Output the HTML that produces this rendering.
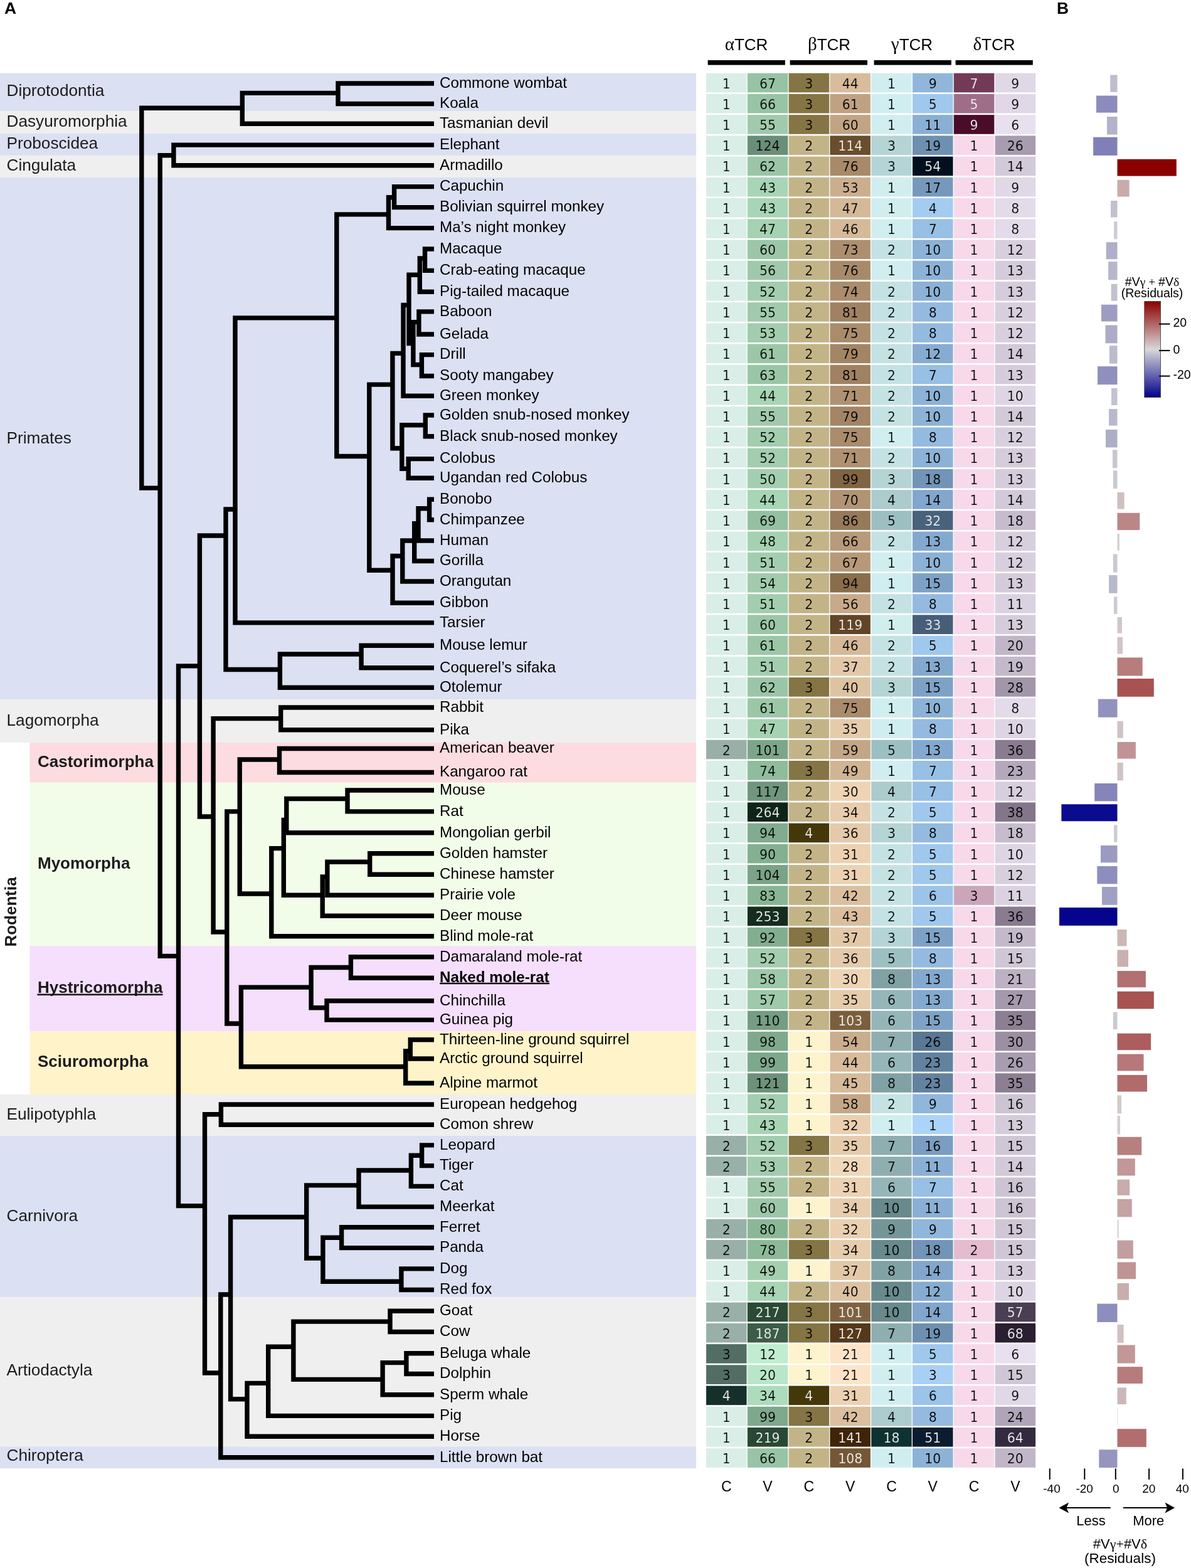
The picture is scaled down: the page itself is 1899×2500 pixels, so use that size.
<!DOCTYPE html><html><head><meta charset="utf-8"><title>TCR repertoire phylogeny</title><style>
html,body{margin:0;padding:0;background:#fff;}body{width:1899px;height:2500px;overflow:hidden;}
svg{display:block;}text{font-family:"Liberation Sans",Arial,sans-serif;text-decoration-skip-ink:none;}
.sp{font-size:24.2px;fill:#000;}.ord{font-size:26.2px;fill:#1c1c1c;}.ob{font-size:26px;font-weight:bold;fill:#1c1c1c;}
.num{font-family:"DejaVu Sans",Verdana,sans-serif;font-size:20.4px;text-anchor:middle;stroke-width:0.2px;}
.gk{font-family:"Liberation Serif","Times New Roman",serif;}
</style></head><body>
<svg width="1899" height="2500" viewBox="0 0 1899 2500">
<rect x="0.0" y="116.8" width="1110.0" height="60.2" fill="#dbe0f2"/>
<rect x="0.0" y="177.0" width="1110.0" height="35.7" fill="#efefef"/>
<rect x="0.0" y="212.7" width="1110.0" height="35.2" fill="#dbe0f2"/>
<rect x="0.0" y="247.9" width="1110.0" height="35.1" fill="#efefef"/>
<rect x="0.0" y="283.0" width="1110.0" height="832.2" fill="#dbe0f2"/>
<rect x="0.0" y="1115.2" width="1110.0" height="68.7" fill="#efefef"/>
<rect x="47.5" y="1183.9" width="1062.5" height="63.9" fill="#fddce1"/>
<rect x="47.5" y="1247.8" width="1062.5" height="260.4" fill="#f2fde9"/>
<rect x="47.5" y="1508.2" width="1062.5" height="136.1" fill="#f5dffc"/>
<rect x="47.5" y="1644.3" width="1062.5" height="100.7" fill="#fef3c9"/>
<rect x="0.0" y="1745.0" width="1110.0" height="66.0" fill="#efefef"/>
<rect x="0.0" y="1811.0" width="1110.0" height="257.0" fill="#dbe0f2"/>
<rect x="0.0" y="2068.0" width="1110.0" height="238.4" fill="#efefef"/>
<rect x="0.0" y="2306.4" width="1110.0" height="34.8" fill="#dbe0f2"/>
<path d="M539.0 133.0V165.5M539.0 133.0H688.3M539.0 165.5H688.3M386.3 148.4V197.2M386.3 148.4H539.0M386.3 197.2H688.3M276.9 231.1V263.7M276.9 231.1H688.3M276.9 263.7H688.3M628.6 297.6V330.6M628.6 297.6H688.3M628.6 330.6H688.3M619.5 314.7V363.6M619.5 314.7H628.6M619.5 363.6H688.3M677.5 397.0V431.4M677.5 397.0H688.3M677.5 431.4H688.3M669.3 412.0V465.3M669.3 412.0H677.5M669.3 465.3H688.3M667.9 496.9V533.0M667.9 496.9H688.3M667.9 533.0H688.3M672.4 565.6V599.5M672.4 565.6H688.3M672.4 599.5H688.3M658.9 513.6V581.5M658.9 513.6H667.9M658.9 581.5H672.4M652.0 438.2V547.6M652.0 438.2H669.3M652.0 547.6H658.9M643.0 486.5V631.2M643.0 486.5H652.0M643.0 631.2H688.3M678.3 662.0V695.8M678.3 662.0H688.3M678.3 695.8H688.3M651.2 731.6V762.3M651.2 731.6H688.3M651.2 762.3H688.3M640.8 677.8V747.4M640.8 677.8H678.3M640.8 747.4H651.2M625.9 563.4V714.8M625.9 563.4H643.0M625.9 714.8H640.8M684.6 796.2V828.8M684.6 796.2H688.3M684.6 828.8H688.3M667.0 810.7V862.0M667.0 810.7H684.6M667.0 862.0H688.3M660.7 834.6V894.5M660.7 834.6H667.0M660.7 894.5H688.3M641.8 862.0V927.0M641.8 862.0H660.7M641.8 927.0H688.3M626.0 886.5V961.2M626.0 886.5H641.8M626.0 961.2H688.3M588.8 613.1V909.2M588.8 613.1H625.9M588.8 909.2H626.0M536.8 341.9V727.5M536.8 341.9H619.5M536.8 727.5H588.8M375.0 506.9V992.9M375.0 506.9H536.8M375.0 992.9H688.3M576.1 1029.3V1064.8M576.1 1029.3H688.3M576.1 1064.8H688.3M446.4 1043.0V1096.3M446.4 1043.0H576.1M446.4 1096.3H688.3M360.0 812.0V1067.5M360.0 812.0H375.0M360.0 1067.5H446.4M447.7 1128.0V1163.7M447.7 1128.0H688.3M447.7 1163.7H688.3M445.5 1193.5V1231.5M445.5 1193.5H688.3M445.5 1231.5H688.3M554.0 1260.0V1293.9M554.0 1260.0H688.3M554.0 1293.9H688.3M456.8 1273.5V1327.8M456.8 1273.5H554.0M456.8 1327.8H688.3M589.7 1360.8V1394.2M589.7 1360.8H688.3M589.7 1394.2H688.3M521.9 1374.3V1427.2M521.9 1374.3H589.7M521.9 1427.2H688.3M514.2 1398.0V1460.2M514.2 1398.0H521.9M514.2 1460.2H688.3M452.3 1307.4V1427.2M452.3 1307.4H456.8M452.3 1427.2H514.2M432.8 1352.6V1492.8M432.8 1352.6H452.3M432.8 1492.8H688.3M382.2 1211.0V1425.0M382.2 1211.0H445.5M382.2 1425.0H432.8M559.4 1525.8V1559.2M559.4 1525.8H688.3M559.4 1559.2H688.3M521.0 1595.8V1626.1M521.0 1595.8H688.3M521.0 1626.1H688.3M496.1 1542.5V1606.7M496.1 1542.5H559.4M496.1 1606.7H521.0M654.3 1657.8V1688.0M654.3 1657.8H688.3M654.3 1688.0H688.3M646.7 1675.9V1727.0M646.7 1675.9H654.3M646.7 1727.0H688.3M384.4 1574.1V1700.7M384.4 1574.1H496.1M384.4 1700.7H646.7M361.8 1293.9V1632.0M361.8 1293.9H382.2M361.8 1632.0H384.4M340.1 1145.6V1486.0M340.1 1145.6H447.7M340.1 1486.0H361.8M318.4 854.0V1302.0M318.4 854.0H360.0M318.4 1302.0H340.1M352.4 1761.0V1793.2M352.4 1761.0H688.3M352.4 1793.2H688.3M672.6 1825.9V1858.6M672.6 1825.9H688.3M672.6 1858.6H688.3M655.4 1842.3V1891.4M655.4 1842.3H672.6M655.4 1891.4H688.3M572.0 1866.0V1924.1M572.0 1866.0H655.4M572.0 1924.1H688.3M544.6 1956.8V1989.6M544.6 1956.8H688.3M544.6 1989.6H688.3M639.9 2022.9V2056.5M639.9 2022.9H688.3M639.9 2056.5H688.3M514.9 1973.2V2043.2M514.9 1973.2H544.6M514.9 2043.2H639.9M488.7 1889.9V2006.0M488.7 1889.9H572.0M488.7 2006.0H514.9M622.0 2090.2V2123.5M622.0 2090.2H688.3M622.0 2123.5H688.3M647.9 2157.7V2190.5M647.9 2157.7H688.3M647.9 2190.5H688.3M610.1 2172.6V2223.8M610.1 2172.6H647.9M610.1 2223.8H688.3M467.9 2107.1V2199.4M467.9 2107.1H622.0M467.9 2199.4H610.1M427.7 2147.3V2257.4M427.7 2147.3H467.9M427.7 2257.4H688.3M394.0 2205.4V2290.2M394.0 2205.4H427.7M394.0 2290.2H688.3M367.6 1940.5V2230.7M367.6 1940.5H488.7M367.6 2230.7H394.0M351.8 2064.0V2323.8M351.8 2064.0H367.6M351.8 2323.8H688.3M326.5 1776.8V2189.0M326.5 1776.8H352.4M326.5 2189.0H351.8M284.5 1061.9V1922.6M284.5 1061.9H318.4M284.5 1922.6H326.5M255.2 247.8V1524.4M255.2 247.8H276.9M255.2 1524.4H284.5M225.8 172.3V778.1M225.8 172.3H386.3M225.8 778.1H255.2" stroke="#000" stroke-width="7.4" fill="none" stroke-linecap="square" stroke-linejoin="miter"/>
<text class="sp" x="701" y="139.8">Commone wombat</text>
<text class="sp" x="701" y="172.3">Koala</text>
<text class="sp" x="701" y="204.0">Tasmanian devil</text>
<text class="sp" x="701" y="237.9">Elephant</text>
<text class="sp" x="701" y="270.5">Armadillo</text>
<text class="sp" x="701" y="304.4">Capuchin</text>
<text class="sp" x="701" y="337.4">Bolivian squirrel monkey</text>
<text class="sp" x="701" y="370.4">Ma’s night monkey</text>
<text class="sp" x="701" y="403.8">Macaque</text>
<text class="sp" x="701" y="438.2">Crab-eating macaque</text>
<text class="sp" x="701" y="472.1">Pig-tailed macaque</text>
<text class="sp" x="701" y="503.7">Baboon</text>
<text class="sp" x="701" y="539.8">Gelada</text>
<text class="sp" x="701" y="572.4">Drill</text>
<text class="sp" x="701" y="606.3">Sooty mangabey</text>
<text class="sp" x="701" y="638.0">Green monkey</text>
<text class="sp" x="701" y="668.8">Golden snub-nosed monkey</text>
<text class="sp" x="701" y="702.6">Black snub-nosed monkey</text>
<text class="sp" x="701" y="738.4">Colobus</text>
<text class="sp" x="701" y="769.1">Ugandan red Colobus</text>
<text class="sp" x="701" y="803.0">Bonobo</text>
<text class="sp" x="701" y="835.6">Chimpanzee</text>
<text class="sp" x="701" y="868.8">Human</text>
<text class="sp" x="701" y="901.3">Gorilla</text>
<text class="sp" x="701" y="933.8">Orangutan</text>
<text class="sp" x="701" y="968.0">Gibbon</text>
<text class="sp" x="701" y="999.7">Tarsier</text>
<text class="sp" x="701" y="1036.1">Mouse lemur</text>
<text class="sp" x="701" y="1071.6">Coquerel’s sifaka</text>
<text class="sp" x="701" y="1103.1">Otolemur</text>
<text class="sp" x="701" y="1134.8">Rabbit</text>
<text class="sp" x="701" y="1170.5">Pika</text>
<text class="sp" x="701" y="1200.3">American beaver</text>
<text class="sp" x="701" y="1238.3">Kangaroo rat</text>
<text class="sp" x="701" y="1266.8">Mouse</text>
<text class="sp" x="701" y="1300.7">Rat</text>
<text class="sp" x="701" y="1334.6">Mongolian gerbil</text>
<text class="sp" x="701" y="1367.6">Golden hamster</text>
<text class="sp" x="701" y="1401.0">Chinese hamster</text>
<text class="sp" x="701" y="1434.0">Prairie vole</text>
<text class="sp" x="701" y="1467.0">Deer mouse</text>
<text class="sp" x="701" y="1499.6">Blind mole-rat</text>
<text class="sp" x="701" y="1532.6">Damaraland mole-rat</text>
<text class="sp" x="701" y="1566.0" font-weight="bold">Naked mole-rat</text>
<rect x="701.2" y="1566.8" width="174.9" height="2.4" fill="#000"/>
<text class="sp" x="701" y="1602.6">Chinchilla</text>
<text class="sp" x="701" y="1632.9">Guinea pig</text>
<text class="sp" x="701" y="1664.6">Thirteen-line ground squirrel</text>
<text class="sp" x="701" y="1694.8">Arctic ground squirrel</text>
<text class="sp" x="701" y="1733.8">Alpine marmot</text>
<text class="sp" x="701" y="1767.8">European hedgehog</text>
<text class="sp" x="701" y="1800.0">Comon shrew</text>
<text class="sp" x="701" y="1832.7">Leopard</text>
<text class="sp" x="701" y="1865.4">Tiger</text>
<text class="sp" x="701" y="1898.2">Cat</text>
<text class="sp" x="701" y="1930.9">Meerkat</text>
<text class="sp" x="701" y="1963.6">Ferret</text>
<text class="sp" x="701" y="1996.4">Panda</text>
<text class="sp" x="701" y="2029.7">Dog</text>
<text class="sp" x="701" y="2063.3">Red fox</text>
<text class="sp" x="701" y="2097.0">Goat</text>
<text class="sp" x="701" y="2130.3">Cow</text>
<text class="sp" x="701" y="2164.5">Beluga whale</text>
<text class="sp" x="701" y="2197.3">Dolphin</text>
<text class="sp" x="701" y="2230.6">Sperm whale</text>
<text class="sp" x="701" y="2264.2">Pig</text>
<text class="sp" x="701" y="2297.0">Horse</text>
<text class="sp" x="701" y="2330.6">Little brown bat</text>
<text class="ord" x="10.5" y="153.0">Diprotodontia</text>
<text class="ord" x="10.5" y="201.8">Dasyuromorphia</text>
<text class="ord" x="10.5" y="236.6">Proboscidea</text>
<text class="ord" x="10.5" y="272.3">Cingulata</text>
<text class="ord" x="10.5" y="706.5">Primates</text>
<text class="ord" x="10.5" y="1157.0">Lagomorpha</text>
<text class="ord" x="10.5" y="1785.0">Eulipotyphla</text>
<text class="ord" x="10.5" y="1946.5">Carnivora</text>
<text class="ord" x="10.5" y="2193.0">Artiodactyla</text>
<text class="ord" x="10.5" y="2329.4">Chiroptera</text>
<text class="ob" x="60" y="1222.8">Castorimorpha</text>
<text class="ob" x="60" y="1384.8">Myomorpha</text>
<text class="ob" x="60" y="1582.6">Hystricomorpha</text>
<rect x="59.4" y="1584.5" width="200.1" height="2.6" fill="#1c1c1c"/>
<text class="ob" x="60" y="1701.3">Sciuromorpha</text>
<text class="ob" transform="translate(26,1454) rotate(-90)" text-anchor="middle">Rodentia</text>
<rect x="1126.00" y="116.70" width="64.50" height="30.62" fill="#d9eee7"/>
<text class="num" x="1158.25" y="140.51" fill="#000" stroke="#d9eee7">1</text>
<rect x="1191.80" y="116.70" width="64.50" height="30.62" fill="#95c3a3"/>
<text class="num" x="1224.05" y="140.51" fill="#000" stroke="#95c3a3">67</text>
<rect x="1257.60" y="116.70" width="64.50" height="30.62" fill="#857544"/>
<text class="num" x="1289.85" y="140.51" fill="#000" stroke="#857544">3</text>
<rect x="1323.40" y="116.70" width="64.50" height="30.62" fill="#d8bc9c"/>
<text class="num" x="1355.65" y="140.51" fill="#000" stroke="#d8bc9c">44</text>
<rect x="1389.20" y="116.70" width="64.50" height="30.62" fill="#d0eef0"/>
<text class="num" x="1421.45" y="140.51" fill="#000" stroke="#d0eef0">1</text>
<rect x="1455.00" y="116.70" width="64.50" height="30.62" fill="#90b6db"/>
<text class="num" x="1487.25" y="140.51" fill="#000" stroke="#90b6db">9</text>
<rect x="1520.80" y="116.70" width="64.50" height="30.62" fill="#733a58"/>
<text class="num" x="1553.05" y="140.51" fill="#f2f2f2" stroke="#733a58">7</text>
<rect x="1586.60" y="116.70" width="64.50" height="30.62" fill="#e0d8e6"/>
<text class="num" x="1618.85" y="140.51" fill="#000" stroke="#e0d8e6">9</text>
<rect x="1126.00" y="149.92" width="64.50" height="30.62" fill="#d9eee7"/>
<text class="num" x="1158.25" y="173.73" fill="#000" stroke="#d9eee7">1</text>
<rect x="1191.80" y="149.92" width="64.50" height="30.62" fill="#96c4a4"/>
<text class="num" x="1224.05" y="173.73" fill="#000" stroke="#96c4a4">66</text>
<rect x="1257.60" y="149.92" width="64.50" height="30.62" fill="#857544"/>
<text class="num" x="1289.85" y="173.73" fill="#000" stroke="#857544">3</text>
<rect x="1323.40" y="149.92" width="64.50" height="30.62" fill="#c0a282"/>
<text class="num" x="1355.65" y="173.73" fill="#000" stroke="#c0a282">61</text>
<rect x="1389.20" y="149.92" width="64.50" height="30.62" fill="#d0eef0"/>
<text class="num" x="1421.45" y="173.73" fill="#000" stroke="#d0eef0">1</text>
<rect x="1455.00" y="149.92" width="64.50" height="30.62" fill="#a0c8ec"/>
<text class="num" x="1487.25" y="173.73" fill="#000" stroke="#a0c8ec">5</text>
<rect x="1520.80" y="149.92" width="64.50" height="30.62" fill="#9e6e88"/>
<text class="num" x="1553.05" y="173.73" fill="#f2f2f2" stroke="#9e6e88">5</text>
<rect x="1586.60" y="149.92" width="64.50" height="30.62" fill="#e0d8e6"/>
<text class="num" x="1618.85" y="173.73" fill="#000" stroke="#e0d8e6">9</text>
<rect x="1126.00" y="183.14" width="64.50" height="30.62" fill="#d9eee7"/>
<text class="num" x="1158.25" y="206.95" fill="#000" stroke="#d9eee7">1</text>
<rect x="1191.80" y="183.14" width="64.50" height="30.62" fill="#a0caab"/>
<text class="num" x="1224.05" y="206.95" fill="#000" stroke="#a0caab">55</text>
<rect x="1257.60" y="183.14" width="64.50" height="30.62" fill="#857544"/>
<text class="num" x="1289.85" y="206.95" fill="#000" stroke="#857544">3</text>
<rect x="1323.40" y="183.14" width="64.50" height="30.62" fill="#c2a484"/>
<text class="num" x="1355.65" y="206.95" fill="#000" stroke="#c2a484">60</text>
<rect x="1389.20" y="183.14" width="64.50" height="30.62" fill="#d0eef0"/>
<text class="num" x="1421.45" y="206.95" fill="#000" stroke="#d0eef0">1</text>
<rect x="1455.00" y="183.14" width="64.50" height="30.62" fill="#8aafd4"/>
<text class="num" x="1487.25" y="206.95" fill="#000" stroke="#8aafd4">11</text>
<rect x="1520.80" y="183.14" width="64.50" height="30.62" fill="#4a0c28"/>
<text class="num" x="1553.05" y="206.95" fill="#f2f2f2" stroke="#4a0c28">9</text>
<rect x="1586.60" y="183.14" width="64.50" height="30.62" fill="#e8e0ee"/>
<text class="num" x="1618.85" y="206.95" fill="#000" stroke="#e8e0ee">6</text>
<rect x="1126.00" y="216.36" width="64.50" height="30.62" fill="#d9eee7"/>
<text class="num" x="1158.25" y="240.17" fill="#000" stroke="#d9eee7">1</text>
<rect x="1191.80" y="216.36" width="64.50" height="30.62" fill="#6a8f78"/>
<text class="num" x="1224.05" y="240.17" fill="#000" stroke="#6a8f78">124</text>
<rect x="1257.60" y="216.36" width="64.50" height="30.62" fill="#c3b488"/>
<text class="num" x="1289.85" y="240.17" fill="#000" stroke="#c3b488">2</text>
<rect x="1323.40" y="216.36" width="64.50" height="30.62" fill="#6a4d2d"/>
<text class="num" x="1355.65" y="240.17" fill="#f2f2f2" stroke="#6a4d2d">114</text>
<rect x="1389.20" y="216.36" width="64.50" height="30.62" fill="#b4d4d6"/>
<text class="num" x="1421.45" y="240.17" fill="#000" stroke="#b4d4d6">3</text>
<rect x="1455.00" y="216.36" width="64.50" height="30.62" fill="#6e90b0"/>
<text class="num" x="1487.25" y="240.17" fill="#000" stroke="#6e90b0">19</text>
<rect x="1520.80" y="216.36" width="64.50" height="30.62" fill="#f7d9e9"/>
<text class="num" x="1553.05" y="240.17" fill="#000" stroke="#f7d9e9">1</text>
<rect x="1586.60" y="216.36" width="64.50" height="30.62" fill="#a89cb0"/>
<text class="num" x="1618.85" y="240.17" fill="#000" stroke="#a89cb0">26</text>
<rect x="1126.00" y="249.58" width="64.50" height="30.62" fill="#d9eee7"/>
<text class="num" x="1158.25" y="273.39" fill="#000" stroke="#d9eee7">1</text>
<rect x="1191.80" y="249.58" width="64.50" height="30.62" fill="#9ac6a7"/>
<text class="num" x="1224.05" y="273.39" fill="#000" stroke="#9ac6a7">62</text>
<rect x="1257.60" y="249.58" width="64.50" height="30.62" fill="#c3b488"/>
<text class="num" x="1289.85" y="273.39" fill="#000" stroke="#c3b488">2</text>
<rect x="1323.40" y="249.58" width="64.50" height="30.62" fill="#a88a6a"/>
<text class="num" x="1355.65" y="273.39" fill="#000" stroke="#a88a6a">76</text>
<rect x="1389.20" y="249.58" width="64.50" height="30.62" fill="#b4d4d6"/>
<text class="num" x="1421.45" y="273.39" fill="#000" stroke="#b4d4d6">3</text>
<rect x="1455.00" y="249.58" width="64.50" height="30.62" fill="#001020"/>
<text class="num" x="1487.25" y="273.39" fill="#f2f2f2" stroke="#001020">54</text>
<rect x="1520.80" y="249.58" width="64.50" height="30.62" fill="#f7d9e9"/>
<text class="num" x="1553.05" y="273.39" fill="#000" stroke="#f7d9e9">1</text>
<rect x="1586.60" y="249.58" width="64.50" height="30.62" fill="#d2c9d9"/>
<text class="num" x="1618.85" y="273.39" fill="#000" stroke="#d2c9d9">14</text>
<rect x="1126.00" y="282.80" width="64.50" height="30.62" fill="#d9eee7"/>
<text class="num" x="1158.25" y="306.61" fill="#000" stroke="#d9eee7">1</text>
<rect x="1191.80" y="282.80" width="64.50" height="30.62" fill="#a7d5b5"/>
<text class="num" x="1224.05" y="306.61" fill="#000" stroke="#a7d5b5">43</text>
<rect x="1257.60" y="282.80" width="64.50" height="30.62" fill="#c3b488"/>
<text class="num" x="1289.85" y="306.61" fill="#000" stroke="#c3b488">2</text>
<rect x="1323.40" y="282.80" width="64.50" height="30.62" fill="#ccae8e"/>
<text class="num" x="1355.65" y="306.61" fill="#000" stroke="#ccae8e">53</text>
<rect x="1389.20" y="282.80" width="64.50" height="30.62" fill="#d0eef0"/>
<text class="num" x="1421.45" y="306.61" fill="#000" stroke="#d0eef0">1</text>
<rect x="1455.00" y="282.80" width="64.50" height="30.62" fill="#7699bb"/>
<text class="num" x="1487.25" y="306.61" fill="#000" stroke="#7699bb">17</text>
<rect x="1520.80" y="282.80" width="64.50" height="30.62" fill="#f7d9e9"/>
<text class="num" x="1553.05" y="306.61" fill="#000" stroke="#f7d9e9">1</text>
<rect x="1586.60" y="282.80" width="64.50" height="30.62" fill="#e0d8e6"/>
<text class="num" x="1618.85" y="306.61" fill="#000" stroke="#e0d8e6">9</text>
<rect x="1126.00" y="316.02" width="64.50" height="30.62" fill="#d9eee7"/>
<text class="num" x="1158.25" y="339.83" fill="#000" stroke="#d9eee7">1</text>
<rect x="1191.80" y="316.02" width="64.50" height="30.62" fill="#a7d5b5"/>
<text class="num" x="1224.05" y="339.83" fill="#000" stroke="#a7d5b5">43</text>
<rect x="1257.60" y="316.02" width="64.50" height="30.62" fill="#c3b488"/>
<text class="num" x="1289.85" y="339.83" fill="#000" stroke="#c3b488">2</text>
<rect x="1323.40" y="316.02" width="64.50" height="30.62" fill="#d4b898"/>
<text class="num" x="1355.65" y="339.83" fill="#000" stroke="#d4b898">47</text>
<rect x="1389.20" y="316.02" width="64.50" height="30.62" fill="#d0eef0"/>
<text class="num" x="1421.45" y="339.83" fill="#000" stroke="#d0eef0">1</text>
<rect x="1455.00" y="316.02" width="64.50" height="30.62" fill="#a4ccf0"/>
<text class="num" x="1487.25" y="339.83" fill="#000" stroke="#a4ccf0">4</text>
<rect x="1520.80" y="316.02" width="64.50" height="30.62" fill="#f7d9e9"/>
<text class="num" x="1553.05" y="339.83" fill="#000" stroke="#f7d9e9">1</text>
<rect x="1586.60" y="316.02" width="64.50" height="30.62" fill="#e3dbe9"/>
<text class="num" x="1618.85" y="339.83" fill="#000" stroke="#e3dbe9">8</text>
<rect x="1126.00" y="349.24" width="64.50" height="30.62" fill="#d9eee7"/>
<text class="num" x="1158.25" y="373.05" fill="#000" stroke="#d9eee7">1</text>
<rect x="1191.80" y="349.24" width="64.50" height="30.62" fill="#a5d2b2"/>
<text class="num" x="1224.05" y="373.05" fill="#000" stroke="#a5d2b2">47</text>
<rect x="1257.60" y="349.24" width="64.50" height="30.62" fill="#c3b488"/>
<text class="num" x="1289.85" y="373.05" fill="#000" stroke="#c3b488">2</text>
<rect x="1323.40" y="349.24" width="64.50" height="30.62" fill="#d5b999"/>
<text class="num" x="1355.65" y="373.05" fill="#000" stroke="#d5b999">46</text>
<rect x="1389.20" y="349.24" width="64.50" height="30.62" fill="#d0eef0"/>
<text class="num" x="1421.45" y="373.05" fill="#000" stroke="#d0eef0">1</text>
<rect x="1455.00" y="349.24" width="64.50" height="30.62" fill="#98bfe4"/>
<text class="num" x="1487.25" y="373.05" fill="#000" stroke="#98bfe4">7</text>
<rect x="1520.80" y="349.24" width="64.50" height="30.62" fill="#f7d9e9"/>
<text class="num" x="1553.05" y="373.05" fill="#000" stroke="#f7d9e9">1</text>
<rect x="1586.60" y="349.24" width="64.50" height="30.62" fill="#e3dbe9"/>
<text class="num" x="1618.85" y="373.05" fill="#000" stroke="#e3dbe9">8</text>
<rect x="1126.00" y="382.46" width="64.50" height="30.62" fill="#d9eee7"/>
<text class="num" x="1158.25" y="406.27" fill="#000" stroke="#d9eee7">1</text>
<rect x="1191.80" y="382.46" width="64.50" height="30.62" fill="#9bc7a8"/>
<text class="num" x="1224.05" y="406.27" fill="#000" stroke="#9bc7a8">60</text>
<rect x="1257.60" y="382.46" width="64.50" height="30.62" fill="#c3b488"/>
<text class="num" x="1289.85" y="406.27" fill="#000" stroke="#c3b488">2</text>
<rect x="1323.40" y="382.46" width="64.50" height="30.62" fill="#ad8f6f"/>
<text class="num" x="1355.65" y="406.27" fill="#000" stroke="#ad8f6f">73</text>
<rect x="1389.20" y="382.46" width="64.50" height="30.62" fill="#c4e2e4"/>
<text class="num" x="1421.45" y="406.27" fill="#000" stroke="#c4e2e4">2</text>
<rect x="1455.00" y="382.46" width="64.50" height="30.62" fill="#8cb2d6"/>
<text class="num" x="1487.25" y="406.27" fill="#000" stroke="#8cb2d6">10</text>
<rect x="1520.80" y="382.46" width="64.50" height="30.62" fill="#f7d9e9"/>
<text class="num" x="1553.05" y="406.27" fill="#000" stroke="#f7d9e9">1</text>
<rect x="1586.60" y="382.46" width="64.50" height="30.62" fill="#d8cfde"/>
<text class="num" x="1618.85" y="406.27" fill="#000" stroke="#d8cfde">12</text>
<rect x="1126.00" y="415.68" width="64.50" height="30.62" fill="#d9eee7"/>
<text class="num" x="1158.25" y="439.49" fill="#000" stroke="#d9eee7">1</text>
<rect x="1191.80" y="415.68" width="64.50" height="30.62" fill="#9fc9aa"/>
<text class="num" x="1224.05" y="439.49" fill="#000" stroke="#9fc9aa">56</text>
<rect x="1257.60" y="415.68" width="64.50" height="30.62" fill="#c3b488"/>
<text class="num" x="1289.85" y="439.49" fill="#000" stroke="#c3b488">2</text>
<rect x="1323.40" y="415.68" width="64.50" height="30.62" fill="#a88a6a"/>
<text class="num" x="1355.65" y="439.49" fill="#000" stroke="#a88a6a">76</text>
<rect x="1389.20" y="415.68" width="64.50" height="30.62" fill="#d0eef0"/>
<text class="num" x="1421.45" y="439.49" fill="#000" stroke="#d0eef0">1</text>
<rect x="1455.00" y="415.68" width="64.50" height="30.62" fill="#8cb2d6"/>
<text class="num" x="1487.25" y="439.49" fill="#000" stroke="#8cb2d6">10</text>
<rect x="1520.80" y="415.68" width="64.50" height="30.62" fill="#f7d9e9"/>
<text class="num" x="1553.05" y="439.49" fill="#000" stroke="#f7d9e9">1</text>
<rect x="1586.60" y="415.68" width="64.50" height="30.62" fill="#d5ccdb"/>
<text class="num" x="1618.85" y="439.49" fill="#000" stroke="#d5ccdb">13</text>
<rect x="1126.00" y="448.90" width="64.50" height="30.62" fill="#d9eee7"/>
<text class="num" x="1158.25" y="472.71" fill="#000" stroke="#d9eee7">1</text>
<rect x="1191.80" y="448.90" width="64.50" height="30.62" fill="#a2cdae"/>
<text class="num" x="1224.05" y="472.71" fill="#000" stroke="#a2cdae">52</text>
<rect x="1257.60" y="448.90" width="64.50" height="30.62" fill="#c3b488"/>
<text class="num" x="1289.85" y="472.71" fill="#000" stroke="#c3b488">2</text>
<rect x="1323.40" y="448.90" width="64.50" height="30.62" fill="#ab8d6d"/>
<text class="num" x="1355.65" y="472.71" fill="#000" stroke="#ab8d6d">74</text>
<rect x="1389.20" y="448.90" width="64.50" height="30.62" fill="#c4e2e4"/>
<text class="num" x="1421.45" y="472.71" fill="#000" stroke="#c4e2e4">2</text>
<rect x="1455.00" y="448.90" width="64.50" height="30.62" fill="#8cb2d6"/>
<text class="num" x="1487.25" y="472.71" fill="#000" stroke="#8cb2d6">10</text>
<rect x="1520.80" y="448.90" width="64.50" height="30.62" fill="#f7d9e9"/>
<text class="num" x="1553.05" y="472.71" fill="#000" stroke="#f7d9e9">1</text>
<rect x="1586.60" y="448.90" width="64.50" height="30.62" fill="#d5ccdb"/>
<text class="num" x="1618.85" y="472.71" fill="#000" stroke="#d5ccdb">13</text>
<rect x="1126.00" y="482.12" width="64.50" height="30.62" fill="#d9eee7"/>
<text class="num" x="1158.25" y="505.93" fill="#000" stroke="#d9eee7">1</text>
<rect x="1191.80" y="482.12" width="64.50" height="30.62" fill="#a0caab"/>
<text class="num" x="1224.05" y="505.93" fill="#000" stroke="#a0caab">55</text>
<rect x="1257.60" y="482.12" width="64.50" height="30.62" fill="#c3b488"/>
<text class="num" x="1289.85" y="505.93" fill="#000" stroke="#c3b488">2</text>
<rect x="1323.40" y="482.12" width="64.50" height="30.62" fill="#a08262"/>
<text class="num" x="1355.65" y="505.93" fill="#000" stroke="#a08262">81</text>
<rect x="1389.20" y="482.12" width="64.50" height="30.62" fill="#c4e2e4"/>
<text class="num" x="1421.45" y="505.93" fill="#000" stroke="#c4e2e4">2</text>
<rect x="1455.00" y="482.12" width="64.50" height="30.62" fill="#94bae0"/>
<text class="num" x="1487.25" y="505.93" fill="#000" stroke="#94bae0">8</text>
<rect x="1520.80" y="482.12" width="64.50" height="30.62" fill="#f7d9e9"/>
<text class="num" x="1553.05" y="505.93" fill="#000" stroke="#f7d9e9">1</text>
<rect x="1586.60" y="482.12" width="64.50" height="30.62" fill="#d8cfde"/>
<text class="num" x="1618.85" y="505.93" fill="#000" stroke="#d8cfde">12</text>
<rect x="1126.00" y="515.34" width="64.50" height="30.62" fill="#d9eee7"/>
<text class="num" x="1158.25" y="539.15" fill="#000" stroke="#d9eee7">1</text>
<rect x="1191.80" y="515.34" width="64.50" height="30.62" fill="#a1ccad"/>
<text class="num" x="1224.05" y="539.15" fill="#000" stroke="#a1ccad">53</text>
<rect x="1257.60" y="515.34" width="64.50" height="30.62" fill="#c3b488"/>
<text class="num" x="1289.85" y="539.15" fill="#000" stroke="#c3b488">2</text>
<rect x="1323.40" y="515.34" width="64.50" height="30.62" fill="#aa8c6c"/>
<text class="num" x="1355.65" y="539.15" fill="#000" stroke="#aa8c6c">75</text>
<rect x="1389.20" y="515.34" width="64.50" height="30.62" fill="#c4e2e4"/>
<text class="num" x="1421.45" y="539.15" fill="#000" stroke="#c4e2e4">2</text>
<rect x="1455.00" y="515.34" width="64.50" height="30.62" fill="#94bae0"/>
<text class="num" x="1487.25" y="539.15" fill="#000" stroke="#94bae0">8</text>
<rect x="1520.80" y="515.34" width="64.50" height="30.62" fill="#f7d9e9"/>
<text class="num" x="1553.05" y="539.15" fill="#000" stroke="#f7d9e9">1</text>
<rect x="1586.60" y="515.34" width="64.50" height="30.62" fill="#d8cfde"/>
<text class="num" x="1618.85" y="539.15" fill="#000" stroke="#d8cfde">12</text>
<rect x="1126.00" y="548.56" width="64.50" height="30.62" fill="#d9eee7"/>
<text class="num" x="1158.25" y="572.37" fill="#000" stroke="#d9eee7">1</text>
<rect x="1191.80" y="548.56" width="64.50" height="30.62" fill="#9bc7a7"/>
<text class="num" x="1224.05" y="572.37" fill="#000" stroke="#9bc7a7">61</text>
<rect x="1257.60" y="548.56" width="64.50" height="30.62" fill="#c3b488"/>
<text class="num" x="1289.85" y="572.37" fill="#000" stroke="#c3b488">2</text>
<rect x="1323.40" y="548.56" width="64.50" height="30.62" fill="#a38565"/>
<text class="num" x="1355.65" y="572.37" fill="#000" stroke="#a38565">79</text>
<rect x="1389.20" y="548.56" width="64.50" height="30.62" fill="#c4e2e4"/>
<text class="num" x="1421.45" y="572.37" fill="#000" stroke="#c4e2e4">2</text>
<rect x="1455.00" y="548.56" width="64.50" height="30.62" fill="#87acd1"/>
<text class="num" x="1487.25" y="572.37" fill="#000" stroke="#87acd1">12</text>
<rect x="1520.80" y="548.56" width="64.50" height="30.62" fill="#f7d9e9"/>
<text class="num" x="1553.05" y="572.37" fill="#000" stroke="#f7d9e9">1</text>
<rect x="1586.60" y="548.56" width="64.50" height="30.62" fill="#d2c9d9"/>
<text class="num" x="1618.85" y="572.37" fill="#000" stroke="#d2c9d9">14</text>
<rect x="1126.00" y="581.78" width="64.50" height="30.62" fill="#d9eee7"/>
<text class="num" x="1158.25" y="605.59" fill="#000" stroke="#d9eee7">1</text>
<rect x="1191.80" y="581.78" width="64.50" height="30.62" fill="#99c6a6"/>
<text class="num" x="1224.05" y="605.59" fill="#000" stroke="#99c6a6">63</text>
<rect x="1257.60" y="581.78" width="64.50" height="30.62" fill="#c3b488"/>
<text class="num" x="1289.85" y="605.59" fill="#000" stroke="#c3b488">2</text>
<rect x="1323.40" y="581.78" width="64.50" height="30.62" fill="#a08262"/>
<text class="num" x="1355.65" y="605.59" fill="#000" stroke="#a08262">81</text>
<rect x="1389.20" y="581.78" width="64.50" height="30.62" fill="#c4e2e4"/>
<text class="num" x="1421.45" y="605.59" fill="#000" stroke="#c4e2e4">2</text>
<rect x="1455.00" y="581.78" width="64.50" height="30.62" fill="#98bfe4"/>
<text class="num" x="1487.25" y="605.59" fill="#000" stroke="#98bfe4">7</text>
<rect x="1520.80" y="581.78" width="64.50" height="30.62" fill="#f7d9e9"/>
<text class="num" x="1553.05" y="605.59" fill="#000" stroke="#f7d9e9">1</text>
<rect x="1586.60" y="581.78" width="64.50" height="30.62" fill="#d5ccdb"/>
<text class="num" x="1618.85" y="605.59" fill="#000" stroke="#d5ccdb">13</text>
<rect x="1126.00" y="615.00" width="64.50" height="30.62" fill="#d9eee7"/>
<text class="num" x="1158.25" y="638.81" fill="#000" stroke="#d9eee7">1</text>
<rect x="1191.80" y="615.00" width="64.50" height="30.62" fill="#a7d5b5"/>
<text class="num" x="1224.05" y="638.81" fill="#000" stroke="#a7d5b5">44</text>
<rect x="1257.60" y="615.00" width="64.50" height="30.62" fill="#c3b488"/>
<text class="num" x="1289.85" y="638.81" fill="#000" stroke="#c3b488">2</text>
<rect x="1323.40" y="615.00" width="64.50" height="30.62" fill="#b09272"/>
<text class="num" x="1355.65" y="638.81" fill="#000" stroke="#b09272">71</text>
<rect x="1389.20" y="615.00" width="64.50" height="30.62" fill="#c4e2e4"/>
<text class="num" x="1421.45" y="638.81" fill="#000" stroke="#c4e2e4">2</text>
<rect x="1455.00" y="615.00" width="64.50" height="30.62" fill="#8cb2d6"/>
<text class="num" x="1487.25" y="638.81" fill="#000" stroke="#8cb2d6">10</text>
<rect x="1520.80" y="615.00" width="64.50" height="30.62" fill="#f7d9e9"/>
<text class="num" x="1553.05" y="638.81" fill="#000" stroke="#f7d9e9">1</text>
<rect x="1586.60" y="615.00" width="64.50" height="30.62" fill="#ddd5e3"/>
<text class="num" x="1618.85" y="638.81" fill="#000" stroke="#ddd5e3">10</text>
<rect x="1126.00" y="648.22" width="64.50" height="30.62" fill="#d9eee7"/>
<text class="num" x="1158.25" y="672.03" fill="#000" stroke="#d9eee7">1</text>
<rect x="1191.80" y="648.22" width="64.50" height="30.62" fill="#a0caab"/>
<text class="num" x="1224.05" y="672.03" fill="#000" stroke="#a0caab">55</text>
<rect x="1257.60" y="648.22" width="64.50" height="30.62" fill="#c3b488"/>
<text class="num" x="1289.85" y="672.03" fill="#000" stroke="#c3b488">2</text>
<rect x="1323.40" y="648.22" width="64.50" height="30.62" fill="#a38565"/>
<text class="num" x="1355.65" y="672.03" fill="#000" stroke="#a38565">79</text>
<rect x="1389.20" y="648.22" width="64.50" height="30.62" fill="#c4e2e4"/>
<text class="num" x="1421.45" y="672.03" fill="#000" stroke="#c4e2e4">2</text>
<rect x="1455.00" y="648.22" width="64.50" height="30.62" fill="#8cb2d6"/>
<text class="num" x="1487.25" y="672.03" fill="#000" stroke="#8cb2d6">10</text>
<rect x="1520.80" y="648.22" width="64.50" height="30.62" fill="#f7d9e9"/>
<text class="num" x="1553.05" y="672.03" fill="#000" stroke="#f7d9e9">1</text>
<rect x="1586.60" y="648.22" width="64.50" height="30.62" fill="#d2c9d9"/>
<text class="num" x="1618.85" y="672.03" fill="#000" stroke="#d2c9d9">14</text>
<rect x="1126.00" y="681.44" width="64.50" height="30.62" fill="#d9eee7"/>
<text class="num" x="1158.25" y="705.25" fill="#000" stroke="#d9eee7">1</text>
<rect x="1191.80" y="681.44" width="64.50" height="30.62" fill="#a2cdae"/>
<text class="num" x="1224.05" y="705.25" fill="#000" stroke="#a2cdae">52</text>
<rect x="1257.60" y="681.44" width="64.50" height="30.62" fill="#c3b488"/>
<text class="num" x="1289.85" y="705.25" fill="#000" stroke="#c3b488">2</text>
<rect x="1323.40" y="681.44" width="64.50" height="30.62" fill="#aa8c6c"/>
<text class="num" x="1355.65" y="705.25" fill="#000" stroke="#aa8c6c">75</text>
<rect x="1389.20" y="681.44" width="64.50" height="30.62" fill="#d0eef0"/>
<text class="num" x="1421.45" y="705.25" fill="#000" stroke="#d0eef0">1</text>
<rect x="1455.00" y="681.44" width="64.50" height="30.62" fill="#94bae0"/>
<text class="num" x="1487.25" y="705.25" fill="#000" stroke="#94bae0">8</text>
<rect x="1520.80" y="681.44" width="64.50" height="30.62" fill="#f7d9e9"/>
<text class="num" x="1553.05" y="705.25" fill="#000" stroke="#f7d9e9">1</text>
<rect x="1586.60" y="681.44" width="64.50" height="30.62" fill="#d8cfde"/>
<text class="num" x="1618.85" y="705.25" fill="#000" stroke="#d8cfde">12</text>
<rect x="1126.00" y="714.66" width="64.50" height="30.62" fill="#d9eee7"/>
<text class="num" x="1158.25" y="738.47" fill="#000" stroke="#d9eee7">1</text>
<rect x="1191.80" y="714.66" width="64.50" height="30.62" fill="#a2cdae"/>
<text class="num" x="1224.05" y="738.47" fill="#000" stroke="#a2cdae">52</text>
<rect x="1257.60" y="714.66" width="64.50" height="30.62" fill="#c3b488"/>
<text class="num" x="1289.85" y="738.47" fill="#000" stroke="#c3b488">2</text>
<rect x="1323.40" y="714.66" width="64.50" height="30.62" fill="#b09272"/>
<text class="num" x="1355.65" y="738.47" fill="#000" stroke="#b09272">71</text>
<rect x="1389.20" y="714.66" width="64.50" height="30.62" fill="#c4e2e4"/>
<text class="num" x="1421.45" y="738.47" fill="#000" stroke="#c4e2e4">2</text>
<rect x="1455.00" y="714.66" width="64.50" height="30.62" fill="#8cb2d6"/>
<text class="num" x="1487.25" y="738.47" fill="#000" stroke="#8cb2d6">10</text>
<rect x="1520.80" y="714.66" width="64.50" height="30.62" fill="#f7d9e9"/>
<text class="num" x="1553.05" y="738.47" fill="#000" stroke="#f7d9e9">1</text>
<rect x="1586.60" y="714.66" width="64.50" height="30.62" fill="#d5ccdb"/>
<text class="num" x="1618.85" y="738.47" fill="#000" stroke="#d5ccdb">13</text>
<rect x="1126.00" y="747.88" width="64.50" height="30.62" fill="#d9eee7"/>
<text class="num" x="1158.25" y="771.69" fill="#000" stroke="#d9eee7">1</text>
<rect x="1191.80" y="747.88" width="64.50" height="30.62" fill="#a3cfb0"/>
<text class="num" x="1224.05" y="771.69" fill="#000" stroke="#a3cfb0">50</text>
<rect x="1257.60" y="747.88" width="64.50" height="30.62" fill="#c3b488"/>
<text class="num" x="1289.85" y="771.69" fill="#000" stroke="#c3b488">2</text>
<rect x="1323.40" y="747.88" width="64.50" height="30.62" fill="#816543"/>
<text class="num" x="1355.65" y="771.69" fill="#000" stroke="#816543">99</text>
<rect x="1389.20" y="747.88" width="64.50" height="30.62" fill="#b4d4d6"/>
<text class="num" x="1421.45" y="771.69" fill="#000" stroke="#b4d4d6">3</text>
<rect x="1455.00" y="747.88" width="64.50" height="30.62" fill="#7294b6"/>
<text class="num" x="1487.25" y="771.69" fill="#000" stroke="#7294b6">18</text>
<rect x="1520.80" y="747.88" width="64.50" height="30.62" fill="#f7d9e9"/>
<text class="num" x="1553.05" y="771.69" fill="#000" stroke="#f7d9e9">1</text>
<rect x="1586.60" y="747.88" width="64.50" height="30.62" fill="#d5ccdb"/>
<text class="num" x="1618.85" y="771.69" fill="#000" stroke="#d5ccdb">13</text>
<rect x="1126.00" y="781.10" width="64.50" height="30.62" fill="#d9eee7"/>
<text class="num" x="1158.25" y="804.91" fill="#000" stroke="#d9eee7">1</text>
<rect x="1191.80" y="781.10" width="64.50" height="30.62" fill="#a7d5b5"/>
<text class="num" x="1224.05" y="804.91" fill="#000" stroke="#a7d5b5">44</text>
<rect x="1257.60" y="781.10" width="64.50" height="30.62" fill="#c3b488"/>
<text class="num" x="1289.85" y="804.91" fill="#000" stroke="#c3b488">2</text>
<rect x="1323.40" y="781.10" width="64.50" height="30.62" fill="#b29474"/>
<text class="num" x="1355.65" y="804.91" fill="#000" stroke="#b29474">70</text>
<rect x="1389.20" y="781.10" width="64.50" height="30.62" fill="#abcbcc"/>
<text class="num" x="1421.45" y="804.91" fill="#000" stroke="#abcbcc">4</text>
<rect x="1455.00" y="781.10" width="64.50" height="30.62" fill="#82a6cc"/>
<text class="num" x="1487.25" y="804.91" fill="#000" stroke="#82a6cc">14</text>
<rect x="1520.80" y="781.10" width="64.50" height="30.62" fill="#f7d9e9"/>
<text class="num" x="1553.05" y="804.91" fill="#000" stroke="#f7d9e9">1</text>
<rect x="1586.60" y="781.10" width="64.50" height="30.62" fill="#d2c9d9"/>
<text class="num" x="1618.85" y="804.91" fill="#000" stroke="#d2c9d9">14</text>
<rect x="1126.00" y="814.32" width="64.50" height="30.62" fill="#d9eee7"/>
<text class="num" x="1158.25" y="838.13" fill="#000" stroke="#d9eee7">1</text>
<rect x="1191.80" y="814.32" width="64.50" height="30.62" fill="#93c1a1"/>
<text class="num" x="1224.05" y="838.13" fill="#000" stroke="#93c1a1">69</text>
<rect x="1257.60" y="814.32" width="64.50" height="30.62" fill="#c3b488"/>
<text class="num" x="1289.85" y="838.13" fill="#000" stroke="#c3b488">2</text>
<rect x="1323.40" y="814.32" width="64.50" height="30.62" fill="#977a59"/>
<text class="num" x="1355.65" y="838.13" fill="#000" stroke="#977a59">86</text>
<rect x="1389.20" y="814.32" width="64.50" height="30.62" fill="#9cbfc2"/>
<text class="num" x="1421.45" y="838.13" fill="#000" stroke="#9cbfc2">5</text>
<rect x="1455.00" y="814.32" width="64.50" height="30.62" fill="#49627c"/>
<text class="num" x="1487.25" y="838.13" fill="#f2f2f2" stroke="#49627c">32</text>
<rect x="1520.80" y="814.32" width="64.50" height="30.62" fill="#f7d9e9"/>
<text class="num" x="1553.05" y="838.13" fill="#000" stroke="#f7d9e9">1</text>
<rect x="1586.60" y="814.32" width="64.50" height="30.62" fill="#c6bcce"/>
<text class="num" x="1618.85" y="838.13" fill="#000" stroke="#c6bcce">18</text>
<rect x="1126.00" y="847.54" width="64.50" height="30.62" fill="#d9eee7"/>
<text class="num" x="1158.25" y="871.35" fill="#000" stroke="#d9eee7">1</text>
<rect x="1191.80" y="847.54" width="64.50" height="30.62" fill="#a4d1b1"/>
<text class="num" x="1224.05" y="871.35" fill="#000" stroke="#a4d1b1">48</text>
<rect x="1257.60" y="847.54" width="64.50" height="30.62" fill="#c3b488"/>
<text class="num" x="1289.85" y="871.35" fill="#000" stroke="#c3b488">2</text>
<rect x="1323.40" y="847.54" width="64.50" height="30.62" fill="#b89a7a"/>
<text class="num" x="1355.65" y="871.35" fill="#000" stroke="#b89a7a">66</text>
<rect x="1389.20" y="847.54" width="64.50" height="30.62" fill="#c4e2e4"/>
<text class="num" x="1421.45" y="871.35" fill="#000" stroke="#c4e2e4">2</text>
<rect x="1455.00" y="847.54" width="64.50" height="30.62" fill="#84a9ce"/>
<text class="num" x="1487.25" y="871.35" fill="#000" stroke="#84a9ce">13</text>
<rect x="1520.80" y="847.54" width="64.50" height="30.62" fill="#f7d9e9"/>
<text class="num" x="1553.05" y="871.35" fill="#000" stroke="#f7d9e9">1</text>
<rect x="1586.60" y="847.54" width="64.50" height="30.62" fill="#d8cfde"/>
<text class="num" x="1618.85" y="871.35" fill="#000" stroke="#d8cfde">12</text>
<rect x="1126.00" y="880.76" width="64.50" height="30.62" fill="#d9eee7"/>
<text class="num" x="1158.25" y="904.57" fill="#000" stroke="#d9eee7">1</text>
<rect x="1191.80" y="880.76" width="64.50" height="30.62" fill="#a2ceaf"/>
<text class="num" x="1224.05" y="904.57" fill="#000" stroke="#a2ceaf">51</text>
<rect x="1257.60" y="880.76" width="64.50" height="30.62" fill="#c3b488"/>
<text class="num" x="1289.85" y="904.57" fill="#000" stroke="#c3b488">2</text>
<rect x="1323.40" y="880.76" width="64.50" height="30.62" fill="#b79979"/>
<text class="num" x="1355.65" y="904.57" fill="#000" stroke="#b79979">67</text>
<rect x="1389.20" y="880.76" width="64.50" height="30.62" fill="#d0eef0"/>
<text class="num" x="1421.45" y="904.57" fill="#000" stroke="#d0eef0">1</text>
<rect x="1455.00" y="880.76" width="64.50" height="30.62" fill="#8cb2d6"/>
<text class="num" x="1487.25" y="904.57" fill="#000" stroke="#8cb2d6">10</text>
<rect x="1520.80" y="880.76" width="64.50" height="30.62" fill="#f7d9e9"/>
<text class="num" x="1553.05" y="904.57" fill="#000" stroke="#f7d9e9">1</text>
<rect x="1586.60" y="880.76" width="64.50" height="30.62" fill="#d8cfde"/>
<text class="num" x="1618.85" y="904.57" fill="#000" stroke="#d8cfde">12</text>
<rect x="1126.00" y="913.98" width="64.50" height="30.62" fill="#d9eee7"/>
<text class="num" x="1158.25" y="937.79" fill="#000" stroke="#d9eee7">1</text>
<rect x="1191.80" y="913.98" width="64.50" height="30.62" fill="#a1cbac"/>
<text class="num" x="1224.05" y="937.79" fill="#000" stroke="#a1cbac">54</text>
<rect x="1257.60" y="913.98" width="64.50" height="30.62" fill="#c3b488"/>
<text class="num" x="1289.85" y="937.79" fill="#000" stroke="#c3b488">2</text>
<rect x="1323.40" y="913.98" width="64.50" height="30.62" fill="#8a6d4c"/>
<text class="num" x="1355.65" y="937.79" fill="#000" stroke="#8a6d4c">94</text>
<rect x="1389.20" y="913.98" width="64.50" height="30.62" fill="#d0eef0"/>
<text class="num" x="1421.45" y="937.79" fill="#000" stroke="#d0eef0">1</text>
<rect x="1455.00" y="913.98" width="64.50" height="30.62" fill="#7ea2c6"/>
<text class="num" x="1487.25" y="937.79" fill="#000" stroke="#7ea2c6">15</text>
<rect x="1520.80" y="913.98" width="64.50" height="30.62" fill="#f7d9e9"/>
<text class="num" x="1553.05" y="937.79" fill="#000" stroke="#f7d9e9">1</text>
<rect x="1586.60" y="913.98" width="64.50" height="30.62" fill="#d5ccdb"/>
<text class="num" x="1618.85" y="937.79" fill="#000" stroke="#d5ccdb">13</text>
<rect x="1126.00" y="947.20" width="64.50" height="30.62" fill="#d9eee7"/>
<text class="num" x="1158.25" y="971.01" fill="#000" stroke="#d9eee7">1</text>
<rect x="1191.80" y="947.20" width="64.50" height="30.62" fill="#a2ceaf"/>
<text class="num" x="1224.05" y="971.01" fill="#000" stroke="#a2ceaf">51</text>
<rect x="1257.60" y="947.20" width="64.50" height="30.62" fill="#c3b488"/>
<text class="num" x="1289.85" y="971.01" fill="#000" stroke="#c3b488">2</text>
<rect x="1323.40" y="947.20" width="64.50" height="30.62" fill="#c8aa8a"/>
<text class="num" x="1355.65" y="971.01" fill="#000" stroke="#c8aa8a">56</text>
<rect x="1389.20" y="947.20" width="64.50" height="30.62" fill="#c4e2e4"/>
<text class="num" x="1421.45" y="971.01" fill="#000" stroke="#c4e2e4">2</text>
<rect x="1455.00" y="947.20" width="64.50" height="30.62" fill="#94bae0"/>
<text class="num" x="1487.25" y="971.01" fill="#000" stroke="#94bae0">8</text>
<rect x="1520.80" y="947.20" width="64.50" height="30.62" fill="#f7d9e9"/>
<text class="num" x="1553.05" y="971.01" fill="#000" stroke="#f7d9e9">1</text>
<rect x="1586.60" y="947.20" width="64.50" height="30.62" fill="#dad2e1"/>
<text class="num" x="1618.85" y="971.01" fill="#000" stroke="#dad2e1">11</text>
<rect x="1126.00" y="980.42" width="64.50" height="30.62" fill="#d9eee7"/>
<text class="num" x="1158.25" y="1004.23" fill="#000" stroke="#d9eee7">1</text>
<rect x="1191.80" y="980.42" width="64.50" height="30.62" fill="#9bc7a8"/>
<text class="num" x="1224.05" y="1004.23" fill="#000" stroke="#9bc7a8">60</text>
<rect x="1257.60" y="980.42" width="64.50" height="30.62" fill="#c3b488"/>
<text class="num" x="1289.85" y="1004.23" fill="#000" stroke="#c3b488">2</text>
<rect x="1323.40" y="980.42" width="64.50" height="30.62" fill="#624526"/>
<text class="num" x="1355.65" y="1004.23" fill="#f2f2f2" stroke="#624526">119</text>
<rect x="1389.20" y="980.42" width="64.50" height="30.62" fill="#d0eef0"/>
<text class="num" x="1421.45" y="1004.23" fill="#000" stroke="#d0eef0">1</text>
<rect x="1455.00" y="980.42" width="64.50" height="30.62" fill="#465e78"/>
<text class="num" x="1487.25" y="1004.23" fill="#f2f2f2" stroke="#465e78">33</text>
<rect x="1520.80" y="980.42" width="64.50" height="30.62" fill="#f7d9e9"/>
<text class="num" x="1553.05" y="1004.23" fill="#000" stroke="#f7d9e9">1</text>
<rect x="1586.60" y="980.42" width="64.50" height="30.62" fill="#d5ccdb"/>
<text class="num" x="1618.85" y="1004.23" fill="#000" stroke="#d5ccdb">13</text>
<rect x="1126.00" y="1013.64" width="64.50" height="30.62" fill="#d9eee7"/>
<text class="num" x="1158.25" y="1037.45" fill="#000" stroke="#d9eee7">1</text>
<rect x="1191.80" y="1013.64" width="64.50" height="30.62" fill="#9bc7a7"/>
<text class="num" x="1224.05" y="1037.45" fill="#000" stroke="#9bc7a7">61</text>
<rect x="1257.60" y="1013.64" width="64.50" height="30.62" fill="#c3b488"/>
<text class="num" x="1289.85" y="1037.45" fill="#000" stroke="#c3b488">2</text>
<rect x="1323.40" y="1013.64" width="64.50" height="30.62" fill="#d5b999"/>
<text class="num" x="1355.65" y="1037.45" fill="#000" stroke="#d5b999">46</text>
<rect x="1389.20" y="1013.64" width="64.50" height="30.62" fill="#c4e2e4"/>
<text class="num" x="1421.45" y="1037.45" fill="#000" stroke="#c4e2e4">2</text>
<rect x="1455.00" y="1013.64" width="64.50" height="30.62" fill="#a0c8ec"/>
<text class="num" x="1487.25" y="1037.45" fill="#000" stroke="#a0c8ec">5</text>
<rect x="1520.80" y="1013.64" width="64.50" height="30.62" fill="#f7d9e9"/>
<text class="num" x="1553.05" y="1037.45" fill="#000" stroke="#f7d9e9">1</text>
<rect x="1586.60" y="1013.64" width="64.50" height="30.62" fill="#c0b6c8"/>
<text class="num" x="1618.85" y="1037.45" fill="#000" stroke="#c0b6c8">20</text>
<rect x="1126.00" y="1046.86" width="64.50" height="30.62" fill="#d9eee7"/>
<text class="num" x="1158.25" y="1070.67" fill="#000" stroke="#d9eee7">1</text>
<rect x="1191.80" y="1046.86" width="64.50" height="30.62" fill="#a2ceaf"/>
<text class="num" x="1224.05" y="1070.67" fill="#000" stroke="#a2ceaf">51</text>
<rect x="1257.60" y="1046.86" width="64.50" height="30.62" fill="#c3b488"/>
<text class="num" x="1289.85" y="1070.67" fill="#000" stroke="#c3b488">2</text>
<rect x="1323.40" y="1046.86" width="64.50" height="30.62" fill="#e3c8a8"/>
<text class="num" x="1355.65" y="1070.67" fill="#000" stroke="#e3c8a8">37</text>
<rect x="1389.20" y="1046.86" width="64.50" height="30.62" fill="#c4e2e4"/>
<text class="num" x="1421.45" y="1070.67" fill="#000" stroke="#c4e2e4">2</text>
<rect x="1455.00" y="1046.86" width="64.50" height="30.62" fill="#84a9ce"/>
<text class="num" x="1487.25" y="1070.67" fill="#000" stroke="#84a9ce">13</text>
<rect x="1520.80" y="1046.86" width="64.50" height="30.62" fill="#f7d9e9"/>
<text class="num" x="1553.05" y="1070.67" fill="#000" stroke="#f7d9e9">1</text>
<rect x="1586.60" y="1046.86" width="64.50" height="30.62" fill="#c3b9cb"/>
<text class="num" x="1618.85" y="1070.67" fill="#000" stroke="#c3b9cb">19</text>
<rect x="1126.00" y="1080.08" width="64.50" height="30.62" fill="#d9eee7"/>
<text class="num" x="1158.25" y="1103.89" fill="#000" stroke="#d9eee7">1</text>
<rect x="1191.80" y="1080.08" width="64.50" height="30.62" fill="#9ac6a7"/>
<text class="num" x="1224.05" y="1103.89" fill="#000" stroke="#9ac6a7">62</text>
<rect x="1257.60" y="1080.08" width="64.50" height="30.62" fill="#857544"/>
<text class="num" x="1289.85" y="1103.89" fill="#000" stroke="#857544">3</text>
<rect x="1323.40" y="1080.08" width="64.50" height="30.62" fill="#dec3a3"/>
<text class="num" x="1355.65" y="1103.89" fill="#000" stroke="#dec3a3">40</text>
<rect x="1389.20" y="1080.08" width="64.50" height="30.62" fill="#b4d4d6"/>
<text class="num" x="1421.45" y="1103.89" fill="#000" stroke="#b4d4d6">3</text>
<rect x="1455.00" y="1080.08" width="64.50" height="30.62" fill="#7ea2c6"/>
<text class="num" x="1487.25" y="1103.89" fill="#000" stroke="#7ea2c6">15</text>
<rect x="1520.80" y="1080.08" width="64.50" height="30.62" fill="#f7d9e9"/>
<text class="num" x="1553.05" y="1103.89" fill="#000" stroke="#f7d9e9">1</text>
<rect x="1586.60" y="1080.08" width="64.50" height="30.62" fill="#a296aa"/>
<text class="num" x="1618.85" y="1103.89" fill="#000" stroke="#a296aa">28</text>
<rect x="1126.00" y="1113.30" width="64.50" height="30.62" fill="#d9eee7"/>
<text class="num" x="1158.25" y="1137.11" fill="#000" stroke="#d9eee7">1</text>
<rect x="1191.80" y="1113.30" width="64.50" height="30.62" fill="#9bc7a7"/>
<text class="num" x="1224.05" y="1137.11" fill="#000" stroke="#9bc7a7">61</text>
<rect x="1257.60" y="1113.30" width="64.50" height="30.62" fill="#c3b488"/>
<text class="num" x="1289.85" y="1137.11" fill="#000" stroke="#c3b488">2</text>
<rect x="1323.40" y="1113.30" width="64.50" height="30.62" fill="#aa8c6c"/>
<text class="num" x="1355.65" y="1137.11" fill="#000" stroke="#aa8c6c">75</text>
<rect x="1389.20" y="1113.30" width="64.50" height="30.62" fill="#d0eef0"/>
<text class="num" x="1421.45" y="1137.11" fill="#000" stroke="#d0eef0">1</text>
<rect x="1455.00" y="1113.30" width="64.50" height="30.62" fill="#8cb2d6"/>
<text class="num" x="1487.25" y="1137.11" fill="#000" stroke="#8cb2d6">10</text>
<rect x="1520.80" y="1113.30" width="64.50" height="30.62" fill="#f7d9e9"/>
<text class="num" x="1553.05" y="1137.11" fill="#000" stroke="#f7d9e9">1</text>
<rect x="1586.60" y="1113.30" width="64.50" height="30.62" fill="#e3dbe9"/>
<text class="num" x="1618.85" y="1137.11" fill="#000" stroke="#e3dbe9">8</text>
<rect x="1126.00" y="1146.52" width="64.50" height="30.62" fill="#d9eee7"/>
<text class="num" x="1158.25" y="1170.33" fill="#000" stroke="#d9eee7">1</text>
<rect x="1191.80" y="1146.52" width="64.50" height="30.62" fill="#a5d2b2"/>
<text class="num" x="1224.05" y="1170.33" fill="#000" stroke="#a5d2b2">47</text>
<rect x="1257.60" y="1146.52" width="64.50" height="30.62" fill="#c3b488"/>
<text class="num" x="1289.85" y="1170.33" fill="#000" stroke="#c3b488">2</text>
<rect x="1323.40" y="1146.52" width="64.50" height="30.62" fill="#e6cbab"/>
<text class="num" x="1355.65" y="1170.33" fill="#000" stroke="#e6cbab">35</text>
<rect x="1389.20" y="1146.52" width="64.50" height="30.62" fill="#d0eef0"/>
<text class="num" x="1421.45" y="1170.33" fill="#000" stroke="#d0eef0">1</text>
<rect x="1455.00" y="1146.52" width="64.50" height="30.62" fill="#94bae0"/>
<text class="num" x="1487.25" y="1170.33" fill="#000" stroke="#94bae0">8</text>
<rect x="1520.80" y="1146.52" width="64.50" height="30.62" fill="#f7d9e9"/>
<text class="num" x="1553.05" y="1170.33" fill="#000" stroke="#f7d9e9">1</text>
<rect x="1586.60" y="1146.52" width="64.50" height="30.62" fill="#ddd5e3"/>
<text class="num" x="1618.85" y="1170.33" fill="#000" stroke="#ddd5e3">10</text>
<rect x="1126.00" y="1179.74" width="64.50" height="30.62" fill="#98b0a8"/>
<text class="num" x="1158.25" y="1203.55" fill="#000" stroke="#98b0a8">2</text>
<rect x="1191.80" y="1179.74" width="64.50" height="30.62" fill="#7ca68a"/>
<text class="num" x="1224.05" y="1203.55" fill="#000" stroke="#7ca68a">101</text>
<rect x="1257.60" y="1179.74" width="64.50" height="30.62" fill="#c3b488"/>
<text class="num" x="1289.85" y="1203.55" fill="#000" stroke="#c3b488">2</text>
<rect x="1323.40" y="1179.74" width="64.50" height="30.62" fill="#c3a686"/>
<text class="num" x="1355.65" y="1203.55" fill="#000" stroke="#c3a686">59</text>
<rect x="1389.20" y="1179.74" width="64.50" height="30.62" fill="#9cbfc2"/>
<text class="num" x="1421.45" y="1203.55" fill="#000" stroke="#9cbfc2">5</text>
<rect x="1455.00" y="1179.74" width="64.50" height="30.62" fill="#84a9ce"/>
<text class="num" x="1487.25" y="1203.55" fill="#000" stroke="#84a9ce">13</text>
<rect x="1520.80" y="1179.74" width="64.50" height="30.62" fill="#f7d9e9"/>
<text class="num" x="1553.05" y="1203.55" fill="#000" stroke="#f7d9e9">1</text>
<rect x="1586.60" y="1179.74" width="64.50" height="30.62" fill="#8a7c90"/>
<text class="num" x="1618.85" y="1203.55" fill="#000" stroke="#8a7c90">36</text>
<rect x="1126.00" y="1212.96" width="64.50" height="30.62" fill="#d9eee7"/>
<text class="num" x="1158.25" y="1236.77" fill="#000" stroke="#d9eee7">1</text>
<rect x="1191.80" y="1212.96" width="64.50" height="30.62" fill="#8fbd9c"/>
<text class="num" x="1224.05" y="1236.77" fill="#000" stroke="#8fbd9c">74</text>
<rect x="1257.60" y="1212.96" width="64.50" height="30.62" fill="#857544"/>
<text class="num" x="1289.85" y="1236.77" fill="#000" stroke="#857544">3</text>
<rect x="1323.40" y="1212.96" width="64.50" height="30.62" fill="#d1b494"/>
<text class="num" x="1355.65" y="1236.77" fill="#000" stroke="#d1b494">49</text>
<rect x="1389.20" y="1212.96" width="64.50" height="30.62" fill="#d0eef0"/>
<text class="num" x="1421.45" y="1236.77" fill="#000" stroke="#d0eef0">1</text>
<rect x="1455.00" y="1212.96" width="64.50" height="30.62" fill="#98bfe4"/>
<text class="num" x="1487.25" y="1236.77" fill="#000" stroke="#98bfe4">7</text>
<rect x="1520.80" y="1212.96" width="64.50" height="30.62" fill="#f7d9e9"/>
<text class="num" x="1553.05" y="1236.77" fill="#000" stroke="#f7d9e9">1</text>
<rect x="1586.60" y="1212.96" width="64.50" height="30.62" fill="#b4a9bc"/>
<text class="num" x="1618.85" y="1236.77" fill="#000" stroke="#b4a9bc">23</text>
<rect x="1126.00" y="1246.18" width="64.50" height="30.62" fill="#d9eee7"/>
<text class="num" x="1158.25" y="1269.99" fill="#000" stroke="#d9eee7">1</text>
<rect x="1191.80" y="1246.18" width="64.50" height="30.62" fill="#70967e"/>
<text class="num" x="1224.05" y="1269.99" fill="#000" stroke="#70967e">117</text>
<rect x="1257.60" y="1246.18" width="64.50" height="30.62" fill="#c3b488"/>
<text class="num" x="1289.85" y="1269.99" fill="#000" stroke="#c3b488">2</text>
<rect x="1323.40" y="1246.18" width="64.50" height="30.62" fill="#eed4b4"/>
<text class="num" x="1355.65" y="1269.99" fill="#000" stroke="#eed4b4">30</text>
<rect x="1389.20" y="1246.18" width="64.50" height="30.62" fill="#abcbcc"/>
<text class="num" x="1421.45" y="1269.99" fill="#000" stroke="#abcbcc">4</text>
<rect x="1455.00" y="1246.18" width="64.50" height="30.62" fill="#98bfe4"/>
<text class="num" x="1487.25" y="1269.99" fill="#000" stroke="#98bfe4">7</text>
<rect x="1520.80" y="1246.18" width="64.50" height="30.62" fill="#f7d9e9"/>
<text class="num" x="1553.05" y="1269.99" fill="#000" stroke="#f7d9e9">1</text>
<rect x="1586.60" y="1246.18" width="64.50" height="30.62" fill="#d8cfde"/>
<text class="num" x="1618.85" y="1269.99" fill="#000" stroke="#d8cfde">12</text>
<rect x="1126.00" y="1279.40" width="64.50" height="30.62" fill="#d9eee7"/>
<text class="num" x="1158.25" y="1303.21" fill="#000" stroke="#d9eee7">1</text>
<rect x="1191.80" y="1279.40" width="64.50" height="30.62" fill="#0f2418"/>
<text class="num" x="1224.05" y="1303.21" fill="#f2f2f2" stroke="#0f2418">264</text>
<rect x="1257.60" y="1279.40" width="64.50" height="30.62" fill="#c3b488"/>
<text class="num" x="1289.85" y="1303.21" fill="#000" stroke="#c3b488">2</text>
<rect x="1323.40" y="1279.40" width="64.50" height="30.62" fill="#e7cdad"/>
<text class="num" x="1355.65" y="1303.21" fill="#000" stroke="#e7cdad">34</text>
<rect x="1389.20" y="1279.40" width="64.50" height="30.62" fill="#c4e2e4"/>
<text class="num" x="1421.45" y="1303.21" fill="#000" stroke="#c4e2e4">2</text>
<rect x="1455.00" y="1279.40" width="64.50" height="30.62" fill="#a0c8ec"/>
<text class="num" x="1487.25" y="1303.21" fill="#000" stroke="#a0c8ec">5</text>
<rect x="1520.80" y="1279.40" width="64.50" height="30.62" fill="#f7d9e9"/>
<text class="num" x="1553.05" y="1303.21" fill="#000" stroke="#f7d9e9">1</text>
<rect x="1586.60" y="1279.40" width="64.50" height="30.62" fill="#84768a"/>
<text class="num" x="1618.85" y="1303.21" fill="#000" stroke="#84768a">38</text>
<rect x="1126.00" y="1312.62" width="64.50" height="30.62" fill="#d9eee7"/>
<text class="num" x="1158.25" y="1336.43" fill="#000" stroke="#d9eee7">1</text>
<rect x="1191.80" y="1312.62" width="64.50" height="30.62" fill="#81ac8f"/>
<text class="num" x="1224.05" y="1336.43" fill="#000" stroke="#81ac8f">94</text>
<rect x="1257.60" y="1312.62" width="64.50" height="30.62" fill="#453808"/>
<text class="num" x="1289.85" y="1336.43" fill="#f2f2f2" stroke="#453808">4</text>
<rect x="1323.40" y="1312.62" width="64.50" height="30.62" fill="#e4caaa"/>
<text class="num" x="1355.65" y="1336.43" fill="#000" stroke="#e4caaa">36</text>
<rect x="1389.20" y="1312.62" width="64.50" height="30.62" fill="#b4d4d6"/>
<text class="num" x="1421.45" y="1336.43" fill="#000" stroke="#b4d4d6">3</text>
<rect x="1455.00" y="1312.62" width="64.50" height="30.62" fill="#94bae0"/>
<text class="num" x="1487.25" y="1336.43" fill="#000" stroke="#94bae0">8</text>
<rect x="1520.80" y="1312.62" width="64.50" height="30.62" fill="#f7d9e9"/>
<text class="num" x="1553.05" y="1336.43" fill="#000" stroke="#f7d9e9">1</text>
<rect x="1586.60" y="1312.62" width="64.50" height="30.62" fill="#c6bcce"/>
<text class="num" x="1618.85" y="1336.43" fill="#000" stroke="#c6bcce">18</text>
<rect x="1126.00" y="1345.84" width="64.50" height="30.62" fill="#d9eee7"/>
<text class="num" x="1158.25" y="1369.65" fill="#000" stroke="#d9eee7">1</text>
<rect x="1191.80" y="1345.84" width="64.50" height="30.62" fill="#84b091"/>
<text class="num" x="1224.05" y="1369.65" fill="#000" stroke="#84b091">90</text>
<rect x="1257.60" y="1345.84" width="64.50" height="30.62" fill="#c3b488"/>
<text class="num" x="1289.85" y="1369.65" fill="#000" stroke="#c3b488">2</text>
<rect x="1323.40" y="1345.84" width="64.50" height="30.62" fill="#ecd2b2"/>
<text class="num" x="1355.65" y="1369.65" fill="#000" stroke="#ecd2b2">31</text>
<rect x="1389.20" y="1345.84" width="64.50" height="30.62" fill="#c4e2e4"/>
<text class="num" x="1421.45" y="1369.65" fill="#000" stroke="#c4e2e4">2</text>
<rect x="1455.00" y="1345.84" width="64.50" height="30.62" fill="#a0c8ec"/>
<text class="num" x="1487.25" y="1369.65" fill="#000" stroke="#a0c8ec">5</text>
<rect x="1520.80" y="1345.84" width="64.50" height="30.62" fill="#f7d9e9"/>
<text class="num" x="1553.05" y="1369.65" fill="#000" stroke="#f7d9e9">1</text>
<rect x="1586.60" y="1345.84" width="64.50" height="30.62" fill="#ddd5e3"/>
<text class="num" x="1618.85" y="1369.65" fill="#000" stroke="#ddd5e3">10</text>
<rect x="1126.00" y="1379.06" width="64.50" height="30.62" fill="#d9eee7"/>
<text class="num" x="1158.25" y="1402.87" fill="#000" stroke="#d9eee7">1</text>
<rect x="1191.80" y="1379.06" width="64.50" height="30.62" fill="#7aa388"/>
<text class="num" x="1224.05" y="1402.87" fill="#000" stroke="#7aa388">104</text>
<rect x="1257.60" y="1379.06" width="64.50" height="30.62" fill="#c3b488"/>
<text class="num" x="1289.85" y="1402.87" fill="#000" stroke="#c3b488">2</text>
<rect x="1323.40" y="1379.06" width="64.50" height="30.62" fill="#ecd2b2"/>
<text class="num" x="1355.65" y="1402.87" fill="#000" stroke="#ecd2b2">31</text>
<rect x="1389.20" y="1379.06" width="64.50" height="30.62" fill="#c4e2e4"/>
<text class="num" x="1421.45" y="1402.87" fill="#000" stroke="#c4e2e4">2</text>
<rect x="1455.00" y="1379.06" width="64.50" height="30.62" fill="#a0c8ec"/>
<text class="num" x="1487.25" y="1402.87" fill="#000" stroke="#a0c8ec">5</text>
<rect x="1520.80" y="1379.06" width="64.50" height="30.62" fill="#f7d9e9"/>
<text class="num" x="1553.05" y="1402.87" fill="#000" stroke="#f7d9e9">1</text>
<rect x="1586.60" y="1379.06" width="64.50" height="30.62" fill="#d8cfde"/>
<text class="num" x="1618.85" y="1402.87" fill="#000" stroke="#d8cfde">12</text>
<rect x="1126.00" y="1412.28" width="64.50" height="30.62" fill="#d9eee7"/>
<text class="num" x="1158.25" y="1436.09" fill="#000" stroke="#d9eee7">1</text>
<rect x="1191.80" y="1412.28" width="64.50" height="30.62" fill="#88b594"/>
<text class="num" x="1224.05" y="1436.09" fill="#000" stroke="#88b594">83</text>
<rect x="1257.60" y="1412.28" width="64.50" height="30.62" fill="#c3b488"/>
<text class="num" x="1289.85" y="1436.09" fill="#000" stroke="#c3b488">2</text>
<rect x="1323.40" y="1412.28" width="64.50" height="30.62" fill="#dbbf9f"/>
<text class="num" x="1355.65" y="1436.09" fill="#000" stroke="#dbbf9f">42</text>
<rect x="1389.20" y="1412.28" width="64.50" height="30.62" fill="#c4e2e4"/>
<text class="num" x="1421.45" y="1436.09" fill="#000" stroke="#c4e2e4">2</text>
<rect x="1455.00" y="1412.28" width="64.50" height="30.62" fill="#9cc3e8"/>
<text class="num" x="1487.25" y="1436.09" fill="#000" stroke="#9cc3e8">6</text>
<rect x="1520.80" y="1412.28" width="64.50" height="30.62" fill="#cba6b8"/>
<text class="num" x="1553.05" y="1436.09" fill="#000" stroke="#cba6b8">3</text>
<rect x="1586.60" y="1412.28" width="64.50" height="30.62" fill="#dad2e1"/>
<text class="num" x="1618.85" y="1436.09" fill="#000" stroke="#dad2e1">11</text>
<rect x="1126.00" y="1445.50" width="64.50" height="30.62" fill="#d9eee7"/>
<text class="num" x="1158.25" y="1469.31" fill="#000" stroke="#d9eee7">1</text>
<rect x="1191.80" y="1445.50" width="64.50" height="30.62" fill="#152d1f"/>
<text class="num" x="1224.05" y="1469.31" fill="#f2f2f2" stroke="#152d1f">253</text>
<rect x="1257.60" y="1445.50" width="64.50" height="30.62" fill="#c3b488"/>
<text class="num" x="1289.85" y="1469.31" fill="#000" stroke="#c3b488">2</text>
<rect x="1323.40" y="1445.50" width="64.50" height="30.62" fill="#dabe9e"/>
<text class="num" x="1355.65" y="1469.31" fill="#000" stroke="#dabe9e">43</text>
<rect x="1389.20" y="1445.50" width="64.50" height="30.62" fill="#c4e2e4"/>
<text class="num" x="1421.45" y="1469.31" fill="#000" stroke="#c4e2e4">2</text>
<rect x="1455.00" y="1445.50" width="64.50" height="30.62" fill="#a0c8ec"/>
<text class="num" x="1487.25" y="1469.31" fill="#000" stroke="#a0c8ec">5</text>
<rect x="1520.80" y="1445.50" width="64.50" height="30.62" fill="#f7d9e9"/>
<text class="num" x="1553.05" y="1469.31" fill="#000" stroke="#f7d9e9">1</text>
<rect x="1586.60" y="1445.50" width="64.50" height="30.62" fill="#8a7c90"/>
<text class="num" x="1618.85" y="1469.31" fill="#000" stroke="#8a7c90">36</text>
<rect x="1126.00" y="1478.72" width="64.50" height="30.62" fill="#d9eee7"/>
<text class="num" x="1158.25" y="1502.53" fill="#000" stroke="#d9eee7">1</text>
<rect x="1191.80" y="1478.72" width="64.50" height="30.62" fill="#82ae90"/>
<text class="num" x="1224.05" y="1502.53" fill="#000" stroke="#82ae90">92</text>
<rect x="1257.60" y="1478.72" width="64.50" height="30.62" fill="#857544"/>
<text class="num" x="1289.85" y="1502.53" fill="#000" stroke="#857544">3</text>
<rect x="1323.40" y="1478.72" width="64.50" height="30.62" fill="#e3c8a8"/>
<text class="num" x="1355.65" y="1502.53" fill="#000" stroke="#e3c8a8">37</text>
<rect x="1389.20" y="1478.72" width="64.50" height="30.62" fill="#b4d4d6"/>
<text class="num" x="1421.45" y="1502.53" fill="#000" stroke="#b4d4d6">3</text>
<rect x="1455.00" y="1478.72" width="64.50" height="30.62" fill="#7ea2c6"/>
<text class="num" x="1487.25" y="1502.53" fill="#000" stroke="#7ea2c6">15</text>
<rect x="1520.80" y="1478.72" width="64.50" height="30.62" fill="#f7d9e9"/>
<text class="num" x="1553.05" y="1502.53" fill="#000" stroke="#f7d9e9">1</text>
<rect x="1586.60" y="1478.72" width="64.50" height="30.62" fill="#c3b9cb"/>
<text class="num" x="1618.85" y="1502.53" fill="#000" stroke="#c3b9cb">19</text>
<rect x="1126.00" y="1511.94" width="64.50" height="30.62" fill="#d9eee7"/>
<text class="num" x="1158.25" y="1535.75" fill="#000" stroke="#d9eee7">1</text>
<rect x="1191.80" y="1511.94" width="64.50" height="30.62" fill="#a2cdae"/>
<text class="num" x="1224.05" y="1535.75" fill="#000" stroke="#a2cdae">52</text>
<rect x="1257.60" y="1511.94" width="64.50" height="30.62" fill="#c3b488"/>
<text class="num" x="1289.85" y="1535.75" fill="#000" stroke="#c3b488">2</text>
<rect x="1323.40" y="1511.94" width="64.50" height="30.62" fill="#e4caaa"/>
<text class="num" x="1355.65" y="1535.75" fill="#000" stroke="#e4caaa">36</text>
<rect x="1389.20" y="1511.94" width="64.50" height="30.62" fill="#9cbfc2"/>
<text class="num" x="1421.45" y="1535.75" fill="#000" stroke="#9cbfc2">5</text>
<rect x="1455.00" y="1511.94" width="64.50" height="30.62" fill="#94bae0"/>
<text class="num" x="1487.25" y="1535.75" fill="#000" stroke="#94bae0">8</text>
<rect x="1520.80" y="1511.94" width="64.50" height="30.62" fill="#f7d9e9"/>
<text class="num" x="1553.05" y="1535.75" fill="#000" stroke="#f7d9e9">1</text>
<rect x="1586.60" y="1511.94" width="64.50" height="30.62" fill="#cfc6d6"/>
<text class="num" x="1618.85" y="1535.75" fill="#000" stroke="#cfc6d6">15</text>
<rect x="1126.00" y="1545.16" width="64.50" height="30.62" fill="#d9eee7"/>
<text class="num" x="1158.25" y="1568.97" fill="#000" stroke="#d9eee7">1</text>
<rect x="1191.80" y="1545.16" width="64.50" height="30.62" fill="#9dc8a9"/>
<text class="num" x="1224.05" y="1568.97" fill="#000" stroke="#9dc8a9">58</text>
<rect x="1257.60" y="1545.16" width="64.50" height="30.62" fill="#c3b488"/>
<text class="num" x="1289.85" y="1568.97" fill="#000" stroke="#c3b488">2</text>
<rect x="1323.40" y="1545.16" width="64.50" height="30.62" fill="#eed4b4"/>
<text class="num" x="1355.65" y="1568.97" fill="#000" stroke="#eed4b4">30</text>
<rect x="1389.20" y="1545.16" width="64.50" height="30.62" fill="#81a2a4"/>
<text class="num" x="1421.45" y="1568.97" fill="#000" stroke="#81a2a4">8</text>
<rect x="1455.00" y="1545.16" width="64.50" height="30.62" fill="#84a9ce"/>
<text class="num" x="1487.25" y="1568.97" fill="#000" stroke="#84a9ce">13</text>
<rect x="1520.80" y="1545.16" width="64.50" height="30.62" fill="#f7d9e9"/>
<text class="num" x="1553.05" y="1568.97" fill="#000" stroke="#f7d9e9">1</text>
<rect x="1586.60" y="1545.16" width="64.50" height="30.62" fill="#bcb2c4"/>
<text class="num" x="1618.85" y="1568.97" fill="#000" stroke="#bcb2c4">21</text>
<rect x="1126.00" y="1578.38" width="64.50" height="30.62" fill="#d9eee7"/>
<text class="num" x="1158.25" y="1602.19" fill="#000" stroke="#d9eee7">1</text>
<rect x="1191.80" y="1578.38" width="64.50" height="30.62" fill="#9ec9aa"/>
<text class="num" x="1224.05" y="1602.19" fill="#000" stroke="#9ec9aa">57</text>
<rect x="1257.60" y="1578.38" width="64.50" height="30.62" fill="#c3b488"/>
<text class="num" x="1289.85" y="1602.19" fill="#000" stroke="#c3b488">2</text>
<rect x="1323.40" y="1578.38" width="64.50" height="30.62" fill="#e6cbab"/>
<text class="num" x="1355.65" y="1602.19" fill="#000" stroke="#e6cbab">35</text>
<rect x="1389.20" y="1578.38" width="64.50" height="30.62" fill="#95b6b9"/>
<text class="num" x="1421.45" y="1602.19" fill="#000" stroke="#95b6b9">6</text>
<rect x="1455.00" y="1578.38" width="64.50" height="30.62" fill="#84a9ce"/>
<text class="num" x="1487.25" y="1602.19" fill="#000" stroke="#84a9ce">13</text>
<rect x="1520.80" y="1578.38" width="64.50" height="30.62" fill="#f7d9e9"/>
<text class="num" x="1553.05" y="1602.19" fill="#000" stroke="#f7d9e9">1</text>
<rect x="1586.60" y="1578.38" width="64.50" height="30.62" fill="#a599ad"/>
<text class="num" x="1618.85" y="1602.19" fill="#000" stroke="#a599ad">27</text>
<rect x="1126.00" y="1611.60" width="64.50" height="30.62" fill="#d9eee7"/>
<text class="num" x="1158.25" y="1635.41" fill="#000" stroke="#d9eee7">1</text>
<rect x="1191.80" y="1611.60" width="64.50" height="30.62" fill="#759d83"/>
<text class="num" x="1224.05" y="1635.41" fill="#000" stroke="#759d83">110</text>
<rect x="1257.60" y="1611.60" width="64.50" height="30.62" fill="#c3b488"/>
<text class="num" x="1289.85" y="1635.41" fill="#000" stroke="#c3b488">2</text>
<rect x="1323.40" y="1611.60" width="64.50" height="30.62" fill="#7b5f3d"/>
<text class="num" x="1355.65" y="1635.41" fill="#f2f2f2" stroke="#7b5f3d">103</text>
<rect x="1389.20" y="1611.60" width="64.50" height="30.62" fill="#95b6b9"/>
<text class="num" x="1421.45" y="1635.41" fill="#000" stroke="#95b6b9">6</text>
<rect x="1455.00" y="1611.60" width="64.50" height="30.62" fill="#7ea2c6"/>
<text class="num" x="1487.25" y="1635.41" fill="#000" stroke="#7ea2c6">15</text>
<rect x="1520.80" y="1611.60" width="64.50" height="30.62" fill="#f7d9e9"/>
<text class="num" x="1553.05" y="1635.41" fill="#000" stroke="#f7d9e9">1</text>
<rect x="1586.60" y="1611.60" width="64.50" height="30.62" fill="#8d7f93"/>
<text class="num" x="1618.85" y="1635.41" fill="#000" stroke="#8d7f93">35</text>
<rect x="1126.00" y="1644.82" width="64.50" height="30.62" fill="#d9eee7"/>
<text class="num" x="1158.25" y="1668.63" fill="#000" stroke="#d9eee7">1</text>
<rect x="1191.80" y="1644.82" width="64.50" height="30.62" fill="#7fa98d"/>
<text class="num" x="1224.05" y="1668.63" fill="#000" stroke="#7fa98d">98</text>
<rect x="1257.60" y="1644.82" width="64.50" height="30.62" fill="#fdf3cc"/>
<text class="num" x="1289.85" y="1668.63" fill="#000" stroke="#fdf3cc">1</text>
<rect x="1323.40" y="1644.82" width="64.50" height="30.62" fill="#caad8d"/>
<text class="num" x="1355.65" y="1668.63" fill="#000" stroke="#caad8d">54</text>
<rect x="1389.20" y="1644.82" width="64.50" height="30.62" fill="#8eaeb0"/>
<text class="num" x="1421.45" y="1668.63" fill="#000" stroke="#8eaeb0">7</text>
<rect x="1455.00" y="1644.82" width="64.50" height="30.62" fill="#5a7794"/>
<text class="num" x="1487.25" y="1668.63" fill="#000" stroke="#5a7794">26</text>
<rect x="1520.80" y="1644.82" width="64.50" height="30.62" fill="#f7d9e9"/>
<text class="num" x="1553.05" y="1668.63" fill="#000" stroke="#f7d9e9">1</text>
<rect x="1586.60" y="1644.82" width="64.50" height="30.62" fill="#9c8fa3"/>
<text class="num" x="1618.85" y="1668.63" fill="#000" stroke="#9c8fa3">30</text>
<rect x="1126.00" y="1678.04" width="64.50" height="30.62" fill="#d9eee7"/>
<text class="num" x="1158.25" y="1701.85" fill="#000" stroke="#d9eee7">1</text>
<rect x="1191.80" y="1678.04" width="64.50" height="30.62" fill="#7ea88c"/>
<text class="num" x="1224.05" y="1701.85" fill="#000" stroke="#7ea88c">99</text>
<rect x="1257.60" y="1678.04" width="64.50" height="30.62" fill="#fdf3cc"/>
<text class="num" x="1289.85" y="1701.85" fill="#000" stroke="#fdf3cc">1</text>
<rect x="1323.40" y="1678.04" width="64.50" height="30.62" fill="#d8bc9c"/>
<text class="num" x="1355.65" y="1701.85" fill="#000" stroke="#d8bc9c">44</text>
<rect x="1389.20" y="1678.04" width="64.50" height="30.62" fill="#95b6b9"/>
<text class="num" x="1421.45" y="1701.85" fill="#000" stroke="#95b6b9">6</text>
<rect x="1455.00" y="1678.04" width="64.50" height="30.62" fill="#6382a0"/>
<text class="num" x="1487.25" y="1701.85" fill="#000" stroke="#6382a0">23</text>
<rect x="1520.80" y="1678.04" width="64.50" height="30.62" fill="#f7d9e9"/>
<text class="num" x="1553.05" y="1701.85" fill="#000" stroke="#f7d9e9">1</text>
<rect x="1586.60" y="1678.04" width="64.50" height="30.62" fill="#a89cb0"/>
<text class="num" x="1618.85" y="1701.85" fill="#000" stroke="#a89cb0">26</text>
<rect x="1126.00" y="1711.26" width="64.50" height="30.62" fill="#d9eee7"/>
<text class="num" x="1158.25" y="1735.07" fill="#000" stroke="#d9eee7">1</text>
<rect x="1191.80" y="1711.26" width="64.50" height="30.62" fill="#6c927a"/>
<text class="num" x="1224.05" y="1735.07" fill="#000" stroke="#6c927a">121</text>
<rect x="1257.60" y="1711.26" width="64.50" height="30.62" fill="#fdf3cc"/>
<text class="num" x="1289.85" y="1735.07" fill="#000" stroke="#fdf3cc">1</text>
<rect x="1323.40" y="1711.26" width="64.50" height="30.62" fill="#d7ba9a"/>
<text class="num" x="1355.65" y="1735.07" fill="#000" stroke="#d7ba9a">45</text>
<rect x="1389.20" y="1711.26" width="64.50" height="30.62" fill="#81a2a4"/>
<text class="num" x="1421.45" y="1735.07" fill="#000" stroke="#81a2a4">8</text>
<rect x="1455.00" y="1711.26" width="64.50" height="30.62" fill="#6382a0"/>
<text class="num" x="1487.25" y="1735.07" fill="#000" stroke="#6382a0">23</text>
<rect x="1520.80" y="1711.26" width="64.50" height="30.62" fill="#f7d9e9"/>
<text class="num" x="1553.05" y="1735.07" fill="#000" stroke="#f7d9e9">1</text>
<rect x="1586.60" y="1711.26" width="64.50" height="30.62" fill="#8d7f93"/>
<text class="num" x="1618.85" y="1735.07" fill="#000" stroke="#8d7f93">35</text>
<rect x="1126.00" y="1744.48" width="64.50" height="30.62" fill="#d9eee7"/>
<text class="num" x="1158.25" y="1768.29" fill="#000" stroke="#d9eee7">1</text>
<rect x="1191.80" y="1744.48" width="64.50" height="30.62" fill="#a2cdae"/>
<text class="num" x="1224.05" y="1768.29" fill="#000" stroke="#a2cdae">52</text>
<rect x="1257.60" y="1744.48" width="64.50" height="30.62" fill="#fdf3cc"/>
<text class="num" x="1289.85" y="1768.29" fill="#000" stroke="#fdf3cc">1</text>
<rect x="1323.40" y="1744.48" width="64.50" height="30.62" fill="#c5a787"/>
<text class="num" x="1355.65" y="1768.29" fill="#000" stroke="#c5a787">58</text>
<rect x="1389.20" y="1744.48" width="64.50" height="30.62" fill="#c4e2e4"/>
<text class="num" x="1421.45" y="1768.29" fill="#000" stroke="#c4e2e4">2</text>
<rect x="1455.00" y="1744.48" width="64.50" height="30.62" fill="#90b6db"/>
<text class="num" x="1487.25" y="1768.29" fill="#000" stroke="#90b6db">9</text>
<rect x="1520.80" y="1744.48" width="64.50" height="30.62" fill="#f7d9e9"/>
<text class="num" x="1553.05" y="1768.29" fill="#000" stroke="#f7d9e9">1</text>
<rect x="1586.60" y="1744.48" width="64.50" height="30.62" fill="#ccc3d3"/>
<text class="num" x="1618.85" y="1768.29" fill="#000" stroke="#ccc3d3">16</text>
<rect x="1126.00" y="1777.70" width="64.50" height="30.62" fill="#d9eee7"/>
<text class="num" x="1158.25" y="1801.51" fill="#000" stroke="#d9eee7">1</text>
<rect x="1191.80" y="1777.70" width="64.50" height="30.62" fill="#a7d5b5"/>
<text class="num" x="1224.05" y="1801.51" fill="#000" stroke="#a7d5b5">43</text>
<rect x="1257.60" y="1777.70" width="64.50" height="30.62" fill="#fdf3cc"/>
<text class="num" x="1289.85" y="1801.51" fill="#000" stroke="#fdf3cc">1</text>
<rect x="1323.40" y="1777.70" width="64.50" height="30.62" fill="#ead0b0"/>
<text class="num" x="1355.65" y="1801.51" fill="#000" stroke="#ead0b0">32</text>
<rect x="1389.20" y="1777.70" width="64.50" height="30.62" fill="#d0eef0"/>
<text class="num" x="1421.45" y="1801.51" fill="#000" stroke="#d0eef0">1</text>
<rect x="1455.00" y="1777.70" width="64.50" height="30.62" fill="#acd4f8"/>
<text class="num" x="1487.25" y="1801.51" fill="#000" stroke="#acd4f8">1</text>
<rect x="1520.80" y="1777.70" width="64.50" height="30.62" fill="#f7d9e9"/>
<text class="num" x="1553.05" y="1801.51" fill="#000" stroke="#f7d9e9">1</text>
<rect x="1586.60" y="1777.70" width="64.50" height="30.62" fill="#d5ccdb"/>
<text class="num" x="1618.85" y="1801.51" fill="#000" stroke="#d5ccdb">13</text>
<rect x="1126.00" y="1810.92" width="64.50" height="30.62" fill="#98b0a8"/>
<text class="num" x="1158.25" y="1834.73" fill="#000" stroke="#98b0a8">2</text>
<rect x="1191.80" y="1810.92" width="64.50" height="30.62" fill="#a2cdae"/>
<text class="num" x="1224.05" y="1834.73" fill="#000" stroke="#a2cdae">52</text>
<rect x="1257.60" y="1810.92" width="64.50" height="30.62" fill="#857544"/>
<text class="num" x="1289.85" y="1834.73" fill="#000" stroke="#857544">3</text>
<rect x="1323.40" y="1810.92" width="64.50" height="30.62" fill="#e6cbab"/>
<text class="num" x="1355.65" y="1834.73" fill="#000" stroke="#e6cbab">35</text>
<rect x="1389.20" y="1810.92" width="64.50" height="30.62" fill="#8eaeb0"/>
<text class="num" x="1421.45" y="1834.73" fill="#000" stroke="#8eaeb0">7</text>
<rect x="1455.00" y="1810.92" width="64.50" height="30.62" fill="#7a9dc1"/>
<text class="num" x="1487.25" y="1834.73" fill="#000" stroke="#7a9dc1">16</text>
<rect x="1520.80" y="1810.92" width="64.50" height="30.62" fill="#f7d9e9"/>
<text class="num" x="1553.05" y="1834.73" fill="#000" stroke="#f7d9e9">1</text>
<rect x="1586.60" y="1810.92" width="64.50" height="30.62" fill="#cfc6d6"/>
<text class="num" x="1618.85" y="1834.73" fill="#000" stroke="#cfc6d6">15</text>
<rect x="1126.00" y="1844.14" width="64.50" height="30.62" fill="#98b0a8"/>
<text class="num" x="1158.25" y="1867.95" fill="#000" stroke="#98b0a8">2</text>
<rect x="1191.80" y="1844.14" width="64.50" height="30.62" fill="#a1ccad"/>
<text class="num" x="1224.05" y="1867.95" fill="#000" stroke="#a1ccad">53</text>
<rect x="1257.60" y="1844.14" width="64.50" height="30.62" fill="#c3b488"/>
<text class="num" x="1289.85" y="1867.95" fill="#000" stroke="#c3b488">2</text>
<rect x="1323.40" y="1844.14" width="64.50" height="30.62" fill="#f1d7b9"/>
<text class="num" x="1355.65" y="1867.95" fill="#000" stroke="#f1d7b9">28</text>
<rect x="1389.20" y="1844.14" width="64.50" height="30.62" fill="#8eaeb0"/>
<text class="num" x="1421.45" y="1867.95" fill="#000" stroke="#8eaeb0">7</text>
<rect x="1455.00" y="1844.14" width="64.50" height="30.62" fill="#8aafd4"/>
<text class="num" x="1487.25" y="1867.95" fill="#000" stroke="#8aafd4">11</text>
<rect x="1520.80" y="1844.14" width="64.50" height="30.62" fill="#f7d9e9"/>
<text class="num" x="1553.05" y="1867.95" fill="#000" stroke="#f7d9e9">1</text>
<rect x="1586.60" y="1844.14" width="64.50" height="30.62" fill="#d2c9d9"/>
<text class="num" x="1618.85" y="1867.95" fill="#000" stroke="#d2c9d9">14</text>
<rect x="1126.00" y="1877.36" width="64.50" height="30.62" fill="#d9eee7"/>
<text class="num" x="1158.25" y="1901.17" fill="#000" stroke="#d9eee7">1</text>
<rect x="1191.80" y="1877.36" width="64.50" height="30.62" fill="#a0caab"/>
<text class="num" x="1224.05" y="1901.17" fill="#000" stroke="#a0caab">55</text>
<rect x="1257.60" y="1877.36" width="64.50" height="30.62" fill="#c3b488"/>
<text class="num" x="1289.85" y="1901.17" fill="#000" stroke="#c3b488">2</text>
<rect x="1323.40" y="1877.36" width="64.50" height="30.62" fill="#ecd2b2"/>
<text class="num" x="1355.65" y="1901.17" fill="#000" stroke="#ecd2b2">31</text>
<rect x="1389.20" y="1877.36" width="64.50" height="30.62" fill="#95b6b9"/>
<text class="num" x="1421.45" y="1901.17" fill="#000" stroke="#95b6b9">6</text>
<rect x="1455.00" y="1877.36" width="64.50" height="30.62" fill="#98bfe4"/>
<text class="num" x="1487.25" y="1901.17" fill="#000" stroke="#98bfe4">7</text>
<rect x="1520.80" y="1877.36" width="64.50" height="30.62" fill="#f7d9e9"/>
<text class="num" x="1553.05" y="1901.17" fill="#000" stroke="#f7d9e9">1</text>
<rect x="1586.60" y="1877.36" width="64.50" height="30.62" fill="#ccc3d3"/>
<text class="num" x="1618.85" y="1901.17" fill="#000" stroke="#ccc3d3">16</text>
<rect x="1126.00" y="1910.58" width="64.50" height="30.62" fill="#d9eee7"/>
<text class="num" x="1158.25" y="1934.39" fill="#000" stroke="#d9eee7">1</text>
<rect x="1191.80" y="1910.58" width="64.50" height="30.62" fill="#9bc7a8"/>
<text class="num" x="1224.05" y="1934.39" fill="#000" stroke="#9bc7a8">60</text>
<rect x="1257.60" y="1910.58" width="64.50" height="30.62" fill="#fdf3cc"/>
<text class="num" x="1289.85" y="1934.39" fill="#000" stroke="#fdf3cc">1</text>
<rect x="1323.40" y="1910.58" width="64.50" height="30.62" fill="#e7cdad"/>
<text class="num" x="1355.65" y="1934.39" fill="#000" stroke="#e7cdad">34</text>
<rect x="1389.20" y="1910.58" width="64.50" height="30.62" fill="#688a8c"/>
<text class="num" x="1421.45" y="1934.39" fill="#000" stroke="#688a8c">10</text>
<rect x="1455.00" y="1910.58" width="64.50" height="30.62" fill="#8aafd4"/>
<text class="num" x="1487.25" y="1934.39" fill="#000" stroke="#8aafd4">11</text>
<rect x="1520.80" y="1910.58" width="64.50" height="30.62" fill="#f7d9e9"/>
<text class="num" x="1553.05" y="1934.39" fill="#000" stroke="#f7d9e9">1</text>
<rect x="1586.60" y="1910.58" width="64.50" height="30.62" fill="#ccc3d3"/>
<text class="num" x="1618.85" y="1934.39" fill="#000" stroke="#ccc3d3">16</text>
<rect x="1126.00" y="1943.80" width="64.50" height="30.62" fill="#98b0a8"/>
<text class="num" x="1158.25" y="1967.61" fill="#000" stroke="#98b0a8">2</text>
<rect x="1191.80" y="1943.80" width="64.50" height="30.62" fill="#8ab896"/>
<text class="num" x="1224.05" y="1967.61" fill="#000" stroke="#8ab896">80</text>
<rect x="1257.60" y="1943.80" width="64.50" height="30.62" fill="#c3b488"/>
<text class="num" x="1289.85" y="1967.61" fill="#000" stroke="#c3b488">2</text>
<rect x="1323.40" y="1943.80" width="64.50" height="30.62" fill="#ead0b0"/>
<text class="num" x="1355.65" y="1967.61" fill="#000" stroke="#ead0b0">32</text>
<rect x="1389.20" y="1943.80" width="64.50" height="30.62" fill="#759698"/>
<text class="num" x="1421.45" y="1967.61" fill="#000" stroke="#759698">9</text>
<rect x="1455.00" y="1943.80" width="64.50" height="30.62" fill="#90b6db"/>
<text class="num" x="1487.25" y="1967.61" fill="#000" stroke="#90b6db">9</text>
<rect x="1520.80" y="1943.80" width="64.50" height="30.62" fill="#f7d9e9"/>
<text class="num" x="1553.05" y="1967.61" fill="#000" stroke="#f7d9e9">1</text>
<rect x="1586.60" y="1943.80" width="64.50" height="30.62" fill="#cfc6d6"/>
<text class="num" x="1618.85" y="1967.61" fill="#000" stroke="#cfc6d6">15</text>
<rect x="1126.00" y="1977.02" width="64.50" height="30.62" fill="#98b0a8"/>
<text class="num" x="1158.25" y="2000.83" fill="#000" stroke="#98b0a8">2</text>
<rect x="1191.80" y="1977.02" width="64.50" height="30.62" fill="#8cba98"/>
<text class="num" x="1224.05" y="2000.83" fill="#000" stroke="#8cba98">78</text>
<rect x="1257.60" y="1977.02" width="64.50" height="30.62" fill="#857544"/>
<text class="num" x="1289.85" y="2000.83" fill="#000" stroke="#857544">3</text>
<rect x="1323.40" y="1977.02" width="64.50" height="30.62" fill="#e7cdad"/>
<text class="num" x="1355.65" y="2000.83" fill="#000" stroke="#e7cdad">34</text>
<rect x="1389.20" y="1977.02" width="64.50" height="30.62" fill="#688a8c"/>
<text class="num" x="1421.45" y="2000.83" fill="#000" stroke="#688a8c">10</text>
<rect x="1455.00" y="1977.02" width="64.50" height="30.62" fill="#7294b6"/>
<text class="num" x="1487.25" y="2000.83" fill="#000" stroke="#7294b6">18</text>
<rect x="1520.80" y="1977.02" width="64.50" height="30.62" fill="#e4bcce"/>
<text class="num" x="1553.05" y="2000.83" fill="#000" stroke="#e4bcce">2</text>
<rect x="1586.60" y="1977.02" width="64.50" height="30.62" fill="#cfc6d6"/>
<text class="num" x="1618.85" y="2000.83" fill="#000" stroke="#cfc6d6">15</text>
<rect x="1126.00" y="2010.24" width="64.50" height="30.62" fill="#d9eee7"/>
<text class="num" x="1158.25" y="2034.05" fill="#000" stroke="#d9eee7">1</text>
<rect x="1191.80" y="2010.24" width="64.50" height="30.62" fill="#a4d0b0"/>
<text class="num" x="1224.05" y="2034.05" fill="#000" stroke="#a4d0b0">49</text>
<rect x="1257.60" y="2010.24" width="64.50" height="30.62" fill="#fdf3cc"/>
<text class="num" x="1289.85" y="2034.05" fill="#000" stroke="#fdf3cc">1</text>
<rect x="1323.40" y="2010.24" width="64.50" height="30.62" fill="#e3c8a8"/>
<text class="num" x="1355.65" y="2034.05" fill="#000" stroke="#e3c8a8">37</text>
<rect x="1389.20" y="2010.24" width="64.50" height="30.62" fill="#81a2a4"/>
<text class="num" x="1421.45" y="2034.05" fill="#000" stroke="#81a2a4">8</text>
<rect x="1455.00" y="2010.24" width="64.50" height="30.62" fill="#82a6cc"/>
<text class="num" x="1487.25" y="2034.05" fill="#000" stroke="#82a6cc">14</text>
<rect x="1520.80" y="2010.24" width="64.50" height="30.62" fill="#f7d9e9"/>
<text class="num" x="1553.05" y="2034.05" fill="#000" stroke="#f7d9e9">1</text>
<rect x="1586.60" y="2010.24" width="64.50" height="30.62" fill="#d5ccdb"/>
<text class="num" x="1618.85" y="2034.05" fill="#000" stroke="#d5ccdb">13</text>
<rect x="1126.00" y="2043.46" width="64.50" height="30.62" fill="#d9eee7"/>
<text class="num" x="1158.25" y="2067.27" fill="#000" stroke="#d9eee7">1</text>
<rect x="1191.80" y="2043.46" width="64.50" height="30.62" fill="#a7d5b5"/>
<text class="num" x="1224.05" y="2067.27" fill="#000" stroke="#a7d5b5">44</text>
<rect x="1257.60" y="2043.46" width="64.50" height="30.62" fill="#c3b488"/>
<text class="num" x="1289.85" y="2067.27" fill="#000" stroke="#c3b488">2</text>
<rect x="1323.40" y="2043.46" width="64.50" height="30.62" fill="#dec3a3"/>
<text class="num" x="1355.65" y="2067.27" fill="#000" stroke="#dec3a3">40</text>
<rect x="1389.20" y="2043.46" width="64.50" height="30.62" fill="#688a8c"/>
<text class="num" x="1421.45" y="2067.27" fill="#000" stroke="#688a8c">10</text>
<rect x="1455.00" y="2043.46" width="64.50" height="30.62" fill="#87acd1"/>
<text class="num" x="1487.25" y="2067.27" fill="#000" stroke="#87acd1">12</text>
<rect x="1520.80" y="2043.46" width="64.50" height="30.62" fill="#f7d9e9"/>
<text class="num" x="1553.05" y="2067.27" fill="#000" stroke="#f7d9e9">1</text>
<rect x="1586.60" y="2043.46" width="64.50" height="30.62" fill="#ddd5e3"/>
<text class="num" x="1618.85" y="2067.27" fill="#000" stroke="#ddd5e3">10</text>
<rect x="1126.00" y="2076.68" width="64.50" height="30.62" fill="#98b0a8"/>
<text class="num" x="1158.25" y="2100.49" fill="#000" stroke="#98b0a8">2</text>
<rect x="1191.80" y="2076.68" width="64.50" height="30.62" fill="#2a4a34"/>
<text class="num" x="1224.05" y="2100.49" fill="#f2f2f2" stroke="#2a4a34">217</text>
<rect x="1257.60" y="2076.68" width="64.50" height="30.62" fill="#857544"/>
<text class="num" x="1289.85" y="2100.49" fill="#000" stroke="#857544">3</text>
<rect x="1323.40" y="2076.68" width="64.50" height="30.62" fill="#7e6240"/>
<text class="num" x="1355.65" y="2100.49" fill="#f2f2f2" stroke="#7e6240">101</text>
<rect x="1389.20" y="2076.68" width="64.50" height="30.62" fill="#688a8c"/>
<text class="num" x="1421.45" y="2100.49" fill="#000" stroke="#688a8c">10</text>
<rect x="1455.00" y="2076.68" width="64.50" height="30.62" fill="#82a6cc"/>
<text class="num" x="1487.25" y="2100.49" fill="#000" stroke="#82a6cc">14</text>
<rect x="1520.80" y="2076.68" width="64.50" height="30.62" fill="#f7d9e9"/>
<text class="num" x="1553.05" y="2100.49" fill="#000" stroke="#f7d9e9">1</text>
<rect x="1586.60" y="2076.68" width="64.50" height="30.62" fill="#4a3e54"/>
<text class="num" x="1618.85" y="2100.49" fill="#f2f2f2" stroke="#4a3e54">57</text>
<rect x="1126.00" y="2109.90" width="64.50" height="30.62" fill="#98b0a8"/>
<text class="num" x="1158.25" y="2133.71" fill="#000" stroke="#98b0a8">2</text>
<rect x="1191.80" y="2109.90" width="64.50" height="30.62" fill="#3c5c48"/>
<text class="num" x="1224.05" y="2133.71" fill="#f2f2f2" stroke="#3c5c48">187</text>
<rect x="1257.60" y="2109.90" width="64.50" height="30.62" fill="#857544"/>
<text class="num" x="1289.85" y="2133.71" fill="#000" stroke="#857544">3</text>
<rect x="1323.40" y="2109.90" width="64.50" height="30.62" fill="#56381a"/>
<text class="num" x="1355.65" y="2133.71" fill="#f2f2f2" stroke="#56381a">127</text>
<rect x="1389.20" y="2109.90" width="64.50" height="30.62" fill="#8eaeb0"/>
<text class="num" x="1421.45" y="2133.71" fill="#000" stroke="#8eaeb0">7</text>
<rect x="1455.00" y="2109.90" width="64.50" height="30.62" fill="#6e90b0"/>
<text class="num" x="1487.25" y="2133.71" fill="#000" stroke="#6e90b0">19</text>
<rect x="1520.80" y="2109.90" width="64.50" height="30.62" fill="#f7d9e9"/>
<text class="num" x="1553.05" y="2133.71" fill="#000" stroke="#f7d9e9">1</text>
<rect x="1586.60" y="2109.90" width="64.50" height="30.62" fill="#2a1e32"/>
<text class="num" x="1618.85" y="2133.71" fill="#f2f2f2" stroke="#2a1e32">68</text>
<rect x="1126.00" y="2143.12" width="64.50" height="30.62" fill="#526e64"/>
<text class="num" x="1158.25" y="2166.93" fill="#000" stroke="#526e64">3</text>
<rect x="1191.80" y="2143.12" width="64.50" height="30.62" fill="#c0ecd0"/>
<text class="num" x="1224.05" y="2166.93" fill="#000" stroke="#c0ecd0">12</text>
<rect x="1257.60" y="2143.12" width="64.50" height="30.62" fill="#fdf3cc"/>
<text class="num" x="1289.85" y="2166.93" fill="#000" stroke="#fdf3cc">1</text>
<rect x="1323.40" y="2143.12" width="64.50" height="30.62" fill="#fde4c8"/>
<text class="num" x="1355.65" y="2166.93" fill="#000" stroke="#fde4c8">21</text>
<rect x="1389.20" y="2143.12" width="64.50" height="30.62" fill="#d0eef0"/>
<text class="num" x="1421.45" y="2166.93" fill="#000" stroke="#d0eef0">1</text>
<rect x="1455.00" y="2143.12" width="64.50" height="30.62" fill="#a0c8ec"/>
<text class="num" x="1487.25" y="2166.93" fill="#000" stroke="#a0c8ec">5</text>
<rect x="1520.80" y="2143.12" width="64.50" height="30.62" fill="#f7d9e9"/>
<text class="num" x="1553.05" y="2166.93" fill="#000" stroke="#f7d9e9">1</text>
<rect x="1586.60" y="2143.12" width="64.50" height="30.62" fill="#e8e0ee"/>
<text class="num" x="1618.85" y="2166.93" fill="#000" stroke="#e8e0ee">6</text>
<rect x="1126.00" y="2176.34" width="64.50" height="30.62" fill="#526e64"/>
<text class="num" x="1158.25" y="2200.15" fill="#000" stroke="#526e64">3</text>
<rect x="1191.80" y="2176.34" width="64.50" height="30.62" fill="#b8e6c8"/>
<text class="num" x="1224.05" y="2200.15" fill="#000" stroke="#b8e6c8">20</text>
<rect x="1257.60" y="2176.34" width="64.50" height="30.62" fill="#fdf3cc"/>
<text class="num" x="1289.85" y="2200.15" fill="#000" stroke="#fdf3cc">1</text>
<rect x="1323.40" y="2176.34" width="64.50" height="30.62" fill="#fde4c8"/>
<text class="num" x="1355.65" y="2200.15" fill="#000" stroke="#fde4c8">21</text>
<rect x="1389.20" y="2176.34" width="64.50" height="30.62" fill="#d0eef0"/>
<text class="num" x="1421.45" y="2200.15" fill="#000" stroke="#d0eef0">1</text>
<rect x="1455.00" y="2176.34" width="64.50" height="30.62" fill="#a8d0f4"/>
<text class="num" x="1487.25" y="2200.15" fill="#000" stroke="#a8d0f4">3</text>
<rect x="1520.80" y="2176.34" width="64.50" height="30.62" fill="#f7d9e9"/>
<text class="num" x="1553.05" y="2200.15" fill="#000" stroke="#f7d9e9">1</text>
<rect x="1586.60" y="2176.34" width="64.50" height="30.62" fill="#cfc6d6"/>
<text class="num" x="1618.85" y="2200.15" fill="#000" stroke="#cfc6d6">15</text>
<rect x="1126.00" y="2209.56" width="64.50" height="30.62" fill="#15302a"/>
<text class="num" x="1158.25" y="2233.37" fill="#f2f2f2" stroke="#15302a">4</text>
<rect x="1191.80" y="2209.56" width="64.50" height="30.62" fill="#acdcbc"/>
<text class="num" x="1224.05" y="2233.37" fill="#000" stroke="#acdcbc">34</text>
<rect x="1257.60" y="2209.56" width="64.50" height="30.62" fill="#453808"/>
<text class="num" x="1289.85" y="2233.37" fill="#f2f2f2" stroke="#453808">4</text>
<rect x="1323.40" y="2209.56" width="64.50" height="30.62" fill="#ecd2b2"/>
<text class="num" x="1355.65" y="2233.37" fill="#000" stroke="#ecd2b2">31</text>
<rect x="1389.20" y="2209.56" width="64.50" height="30.62" fill="#d0eef0"/>
<text class="num" x="1421.45" y="2233.37" fill="#000" stroke="#d0eef0">1</text>
<rect x="1455.00" y="2209.56" width="64.50" height="30.62" fill="#9cc3e8"/>
<text class="num" x="1487.25" y="2233.37" fill="#000" stroke="#9cc3e8">6</text>
<rect x="1520.80" y="2209.56" width="64.50" height="30.62" fill="#f7d9e9"/>
<text class="num" x="1553.05" y="2233.37" fill="#000" stroke="#f7d9e9">1</text>
<rect x="1586.60" y="2209.56" width="64.50" height="30.62" fill="#e0d8e6"/>
<text class="num" x="1618.85" y="2233.37" fill="#000" stroke="#e0d8e6">9</text>
<rect x="1126.00" y="2242.78" width="64.50" height="30.62" fill="#d9eee7"/>
<text class="num" x="1158.25" y="2266.59" fill="#000" stroke="#d9eee7">1</text>
<rect x="1191.80" y="2242.78" width="64.50" height="30.62" fill="#7ea88c"/>
<text class="num" x="1224.05" y="2266.59" fill="#000" stroke="#7ea88c">99</text>
<rect x="1257.60" y="2242.78" width="64.50" height="30.62" fill="#857544"/>
<text class="num" x="1289.85" y="2266.59" fill="#000" stroke="#857544">3</text>
<rect x="1323.40" y="2242.78" width="64.50" height="30.62" fill="#dbbf9f"/>
<text class="num" x="1355.65" y="2266.59" fill="#000" stroke="#dbbf9f">42</text>
<rect x="1389.20" y="2242.78" width="64.50" height="30.62" fill="#abcbcc"/>
<text class="num" x="1421.45" y="2266.59" fill="#000" stroke="#abcbcc">4</text>
<rect x="1455.00" y="2242.78" width="64.50" height="30.62" fill="#94bae0"/>
<text class="num" x="1487.25" y="2266.59" fill="#000" stroke="#94bae0">8</text>
<rect x="1520.80" y="2242.78" width="64.50" height="30.62" fill="#f7d9e9"/>
<text class="num" x="1553.05" y="2266.59" fill="#000" stroke="#f7d9e9">1</text>
<rect x="1586.60" y="2242.78" width="64.50" height="30.62" fill="#b0a5b8"/>
<text class="num" x="1618.85" y="2266.59" fill="#000" stroke="#b0a5b8">24</text>
<rect x="1126.00" y="2276.00" width="64.50" height="30.62" fill="#d9eee7"/>
<text class="num" x="1158.25" y="2299.81" fill="#000" stroke="#d9eee7">1</text>
<rect x="1191.80" y="2276.00" width="64.50" height="30.62" fill="#294833"/>
<text class="num" x="1224.05" y="2299.81" fill="#f2f2f2" stroke="#294833">219</text>
<rect x="1257.60" y="2276.00" width="64.50" height="30.62" fill="#c3b488"/>
<text class="num" x="1289.85" y="2299.81" fill="#000" stroke="#c3b488">2</text>
<rect x="1323.40" y="2276.00" width="64.50" height="30.62" fill="#402408"/>
<text class="num" x="1355.65" y="2299.81" fill="#f2f2f2" stroke="#402408">141</text>
<rect x="1389.20" y="2276.00" width="64.50" height="30.62" fill="#0e3232"/>
<text class="num" x="1421.45" y="2299.81" fill="#f2f2f2" stroke="#0e3232">18</text>
<rect x="1455.00" y="2276.00" width="64.50" height="30.62" fill="#0c1c30"/>
<text class="num" x="1487.25" y="2299.81" fill="#f2f2f2" stroke="#0c1c30">51</text>
<rect x="1520.80" y="2276.00" width="64.50" height="30.62" fill="#f7d9e9"/>
<text class="num" x="1553.05" y="2299.81" fill="#000" stroke="#f7d9e9">1</text>
<rect x="1586.60" y="2276.00" width="64.50" height="30.62" fill="#342a40"/>
<text class="num" x="1618.85" y="2299.81" fill="#f2f2f2" stroke="#342a40">64</text>
<rect x="1126.00" y="2309.22" width="64.50" height="30.62" fill="#d9eee7"/>
<text class="num" x="1158.25" y="2333.03" fill="#000" stroke="#d9eee7">1</text>
<rect x="1191.80" y="2309.22" width="64.50" height="30.62" fill="#96c4a4"/>
<text class="num" x="1224.05" y="2333.03" fill="#000" stroke="#96c4a4">66</text>
<rect x="1257.60" y="2309.22" width="64.50" height="30.62" fill="#c3b488"/>
<text class="num" x="1289.85" y="2333.03" fill="#000" stroke="#c3b488">2</text>
<rect x="1323.40" y="2309.22" width="64.50" height="30.62" fill="#735736"/>
<text class="num" x="1355.65" y="2333.03" fill="#f2f2f2" stroke="#735736">108</text>
<rect x="1389.20" y="2309.22" width="64.50" height="30.62" fill="#d0eef0"/>
<text class="num" x="1421.45" y="2333.03" fill="#000" stroke="#d0eef0">1</text>
<rect x="1455.00" y="2309.22" width="64.50" height="30.62" fill="#8cb2d6"/>
<text class="num" x="1487.25" y="2333.03" fill="#000" stroke="#8cb2d6">10</text>
<rect x="1520.80" y="2309.22" width="64.50" height="30.62" fill="#f7d9e9"/>
<text class="num" x="1553.05" y="2333.03" fill="#000" stroke="#f7d9e9">1</text>
<rect x="1586.60" y="2309.22" width="64.50" height="30.62" fill="#c0b6c8"/>
<text class="num" x="1618.85" y="2333.03" fill="#000" stroke="#c0b6c8">20</text>
<text x="1190.0" y="80" text-anchor="middle" font-size="26"><tspan class="gk" font-size="29">α</tspan>TCR</text>
<text x="1322.0" y="80" text-anchor="middle" font-size="26"><tspan class="gk" font-size="29">β</tspan>TCR</text>
<text x="1454.0" y="80" text-anchor="middle" font-size="26"><tspan class="gk" font-size="29">γ</tspan>TCR</text>
<text x="1585.0" y="80" text-anchor="middle" font-size="26"><tspan class="gk" font-size="29">δ</tspan>TCR</text>
<rect x="1128.6" y="96" width="123.2" height="7.6" fill="#000"/>
<rect x="1259.6" y="96" width="123.4" height="7.6" fill="#000"/>
<rect x="1393.6" y="96" width="123.2" height="7.6" fill="#000"/>
<rect x="1523.6" y="96" width="123.2" height="7.6" fill="#000"/>
<text x="1158.2" y="2378.3" text-anchor="middle" font-size="23">C</text>
<text x="1224.0" y="2378.3" text-anchor="middle" font-size="23">V</text>
<text x="1289.8" y="2378.3" text-anchor="middle" font-size="23">C</text>
<text x="1355.7" y="2378.3" text-anchor="middle" font-size="23">V</text>
<text x="1421.5" y="2378.3" text-anchor="middle" font-size="23">C</text>
<text x="1487.2" y="2378.3" text-anchor="middle" font-size="23">V</text>
<text x="1553.0" y="2378.3" text-anchor="middle" font-size="23">C</text>
<text x="1618.8" y="2378.3" text-anchor="middle" font-size="23">V</text>
<rect x="1770.2" y="119.5" width="11.3" height="27.3" fill="#bebecf"/>
<rect x="1748.0" y="152.5" width="33.5" height="27.1" fill="#8b8bbd"/>
<rect x="1765.0" y="186.0" width="16.5" height="28.6" fill="#b2b2ca"/>
<rect x="1743.1" y="218.7" width="38.4" height="29.2" fill="#8080b9"/>
<rect x="1781.5" y="253.8" width="94.3" height="26.8" fill="#8b0000"/>
<rect x="1781.5" y="286.8" width="19.1" height="26.8" fill="#c8acac"/>
<rect x="1771.0" y="320.0" width="10.5" height="26.5" fill="#c0c0cf"/>
<rect x="1776.1" y="353.0" width="5.4" height="28.3" fill="#ccccd4"/>
<rect x="1763.7" y="386.2" width="17.8" height="27.1" fill="#afafc9"/>
<rect x="1767.1" y="417.1" width="14.4" height="29.2" fill="#b7b7cc"/>
<rect x="1771.7" y="452.7" width="9.8" height="27.0" fill="#c1c1d0"/>
<rect x="1756.0" y="485.7" width="25.5" height="26.8" fill="#9d9dc3"/>
<rect x="1762.5" y="518.4" width="19.0" height="28.9" fill="#acacc8"/>
<rect x="1768.9" y="551.1" width="12.6" height="28.6" fill="#bbbbce"/>
<rect x="1750.0" y="584.1" width="31.5" height="29.1" fill="#9090be"/>
<rect x="1772.0" y="618.9" width="9.5" height="27.1" fill="#c2c2d0"/>
<rect x="1768.1" y="652.0" width="13.4" height="26.6" fill="#b9b9cd"/>
<rect x="1763.0" y="685.0" width="18.5" height="28.4" fill="#aeaec9"/>
<rect x="1774.0" y="717.3" width="7.5" height="28.9" fill="#c7c7d2"/>
<rect x="1774.8" y="750.3" width="6.7" height="28.8" fill="#c9c9d3"/>
<rect x="1781.5" y="785.0" width="11.1" height="26.6" fill="#cfbfbf"/>
<rect x="1781.5" y="817.8" width="35.8" height="27.3" fill="#bb8686"/>
<rect x="1781.5" y="850.8" width="3.4" height="26.8" fill="#d5d0d0"/>
<rect x="1774.8" y="883.5" width="6.7" height="29.1" fill="#c9c9d3"/>
<rect x="1768.1" y="917.0" width="13.4" height="28.8" fill="#b9b9cd"/>
<rect x="1775.9" y="951.3" width="5.6" height="27.5" fill="#cbcbd3"/>
<rect x="1781.5" y="984.0" width="7.5" height="25.7" fill="#d2c7c7"/>
<rect x="1781.5" y="1015.7" width="8.5" height="26.8" fill="#d1c4c4"/>
<rect x="1781.5" y="1048.4" width="40.2" height="29.1" fill="#b77c7c"/>
<rect x="1781.5" y="1082.0" width="58.3" height="28.8" fill="#a85252"/>
<rect x="1750.9" y="1114.6" width="30.6" height="29.1" fill="#9292bf"/>
<rect x="1781.5" y="1149.7" width="9.3" height="27.0" fill="#d0c3c3"/>
<rect x="1781.5" y="1183.0" width="29.4" height="26.6" fill="#c09494"/>
<rect x="1781.5" y="1216.0" width="9.3" height="28.4" fill="#d0c3c3"/>
<rect x="1745.2" y="1249.0" width="36.3" height="28.4" fill="#8585ba"/>
<rect x="1692.4" y="1282.3" width="89.1" height="27.0" fill="#0b0b8f"/>
<rect x="1776.1" y="1315.3" width="5.4" height="27.5" fill="#ccccd4"/>
<rect x="1755.0" y="1348.0" width="26.5" height="27.3" fill="#9b9bc2"/>
<rect x="1749.3" y="1381.0" width="32.2" height="28.3" fill="#8e8ebe"/>
<rect x="1757.0" y="1414.0" width="24.5" height="28.8" fill="#a0a0c4"/>
<rect x="1689.0" y="1447.0" width="92.5" height="28.8" fill="#04048c"/>
<rect x="1781.5" y="1482.0" width="15.0" height="26.5" fill="#ccb6b6"/>
<rect x="1781.5" y="1514.5" width="17.5" height="27.0" fill="#cab0b0"/>
<rect x="1781.5" y="1548.0" width="45.4" height="26.2" fill="#b37070"/>
<rect x="1781.5" y="1580.7" width="58.3" height="27.8" fill="#a85252"/>
<rect x="1774.8" y="1613.7" width="6.7" height="27.5" fill="#c9c9d3"/>
<rect x="1781.5" y="1647.7" width="53.6" height="26.5" fill="#ac5d5d"/>
<rect x="1781.5" y="1680.6" width="42.0" height="26.8" fill="#b67878"/>
<rect x="1781.5" y="1713.9" width="47.5" height="26.6" fill="#b16b6b"/>
<rect x="1781.5" y="1746.3" width="6.5" height="29.1" fill="#d3c9c9"/>
<rect x="1781.5" y="1779.0" width="4.5" height="29.5" fill="#d4cece"/>
<rect x="1781.5" y="1812.7" width="38.7" height="28.9" fill="#b87f7f"/>
<rect x="1781.5" y="1847.2" width="28.3" height="27.2" fill="#c19797"/>
<rect x="1781.5" y="1880.6" width="19.6" height="25.2" fill="#c8abab"/>
<rect x="1781.5" y="1911.7" width="23.3" height="28.6" fill="#c5a3a3"/>
<rect x="1781.5" y="1945.0" width="2.3" height="29.0" fill="#d6d3d3"/>
<rect x="1781.5" y="1977.6" width="25.3" height="29.2" fill="#c39e9e"/>
<rect x="1781.5" y="2012.4" width="29.5" height="26.9" fill="#c09494"/>
<rect x="1781.5" y="2046.0" width="18.5" height="26.7" fill="#c9aeae"/>
<rect x="1749.3" y="2078.6" width="32.2" height="29.4" fill="#8e8ebe"/>
<rect x="1781.5" y="2112.0" width="10.1" height="28.8" fill="#d0c1c1"/>
<rect x="1781.5" y="2144.5" width="28.3" height="29.1" fill="#c19797"/>
<rect x="1781.5" y="2179.2" width="40.4" height="26.7" fill="#b77b7b"/>
<rect x="1781.5" y="2212.3" width="14.3" height="26.7" fill="#ccb7b7"/>
<rect x="1781.5" y="2245.1" width="0.8" height="26.7" fill="#d8d7d7"/>
<rect x="1781.5" y="2278.2" width="46.3" height="28.9" fill="#b26e6e"/>
<rect x="1752.3" y="2311.3" width="29.2" height="28.7" fill="#9595c0"/>
<rect x="1672.8" y="2341.4" width="2" height="17.5" fill="#000"/>
<text x="1677.0" y="2379.8" text-anchor="middle" font-size="19">-40</text>
<rect x="1728.3" y="2341.4" width="2" height="17.5" fill="#000"/>
<text x="1729.2" y="2379.8" text-anchor="middle" font-size="19">-20</text>
<rect x="1777.8" y="2341.4" width="2" height="17.5" fill="#000"/>
<text x="1779.2" y="2379.8" text-anchor="middle" font-size="19">0</text>
<rect x="1831.1" y="2341.4" width="2" height="17.5" fill="#000"/>
<text x="1831.7" y="2379.8" text-anchor="middle" font-size="19">20</text>
<rect x="1884.9" y="2341.4" width="2" height="17.5" fill="#000"/>
<text x="1885.3" y="2379.8" text-anchor="middle" font-size="19">40</text>
<rect x="1700" y="2403" width="70.7" height="2" fill="#000"/>
<path d="M1688.5 2404 L1704.1 2395.5 L1700.5 2404 L1704.1 2412.5 Z" fill="#000"/>
<rect x="1790.9" y="2403" width="70" height="2" fill="#000"/>
<path d="M1873.1 2404 L1857.5 2395.5 L1861.1 2404 L1857.5 2412.5 Z" fill="#000"/>
<text x="1739.4" y="2431.7" text-anchor="middle" font-size="22">Less</text>
<text x="1831.2" y="2431.7" text-anchor="middle" font-size="22">More</text>
<text x="1786" y="2469.4" text-anchor="middle" font-size="22">#V<tspan class="gk">γ+</tspan>#V<tspan class="gk">δ</tspan></text>
<text x="1786" y="2492.2" text-anchor="middle" font-size="22.5">(Residuals)</text>
<defs><linearGradient id="lg" x1="0" y1="0" x2="0" y2="1"><stop offset="0" stop-color="#8b0000"/><stop offset="0.5" stop-color="#d8d8d8"/><stop offset="1" stop-color="#00008b"/></linearGradient></defs>
<rect x="1824.8" y="480.5" width="25.8" height="153.1" fill="url(#lg)" stroke="#3a3a3a" stroke-width="0.8"/>
<rect x="1848" y="515.6" width="17.5" height="2" fill="#000"/>
<text x="1870.5" y="521.4" font-size="19.5">20</text>
<rect x="1848" y="557.9" width="17.5" height="2" fill="#000"/>
<text x="1870.5" y="563.7" font-size="19.5">0</text>
<rect x="1848" y="598.6" width="17.5" height="2" fill="#000"/>
<text x="1870.5" y="604.4" font-size="19.5">-20</text>
<text x="1837" y="455.6" text-anchor="middle" font-size="19.5">#V<tspan class="gk">γ + </tspan>#V<tspan class="gk">δ</tspan></text>
<text x="1837" y="474.2" text-anchor="middle" font-size="19.5">(Residuals)</text>
<text x="7" y="22" font-size="26.4" font-weight="bold">A</text>
<text x="1685" y="22" font-size="26.4" font-weight="bold">B</text>
</svg></body></html>
